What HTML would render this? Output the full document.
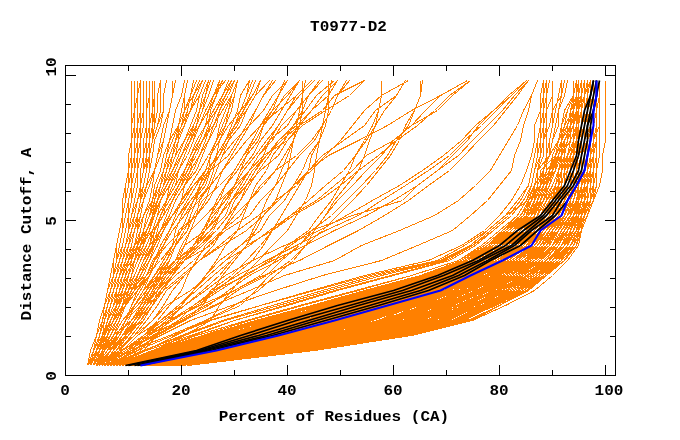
<!DOCTYPE html>
<html><head><meta charset="utf-8"><title>T0977-D2</title>
<style>
html,body{margin:0;padding:0;background:#fff;}
body{width:680px;height:440px;position:relative;overflow:hidden;font-family:"Liberation Mono","DejaVu Sans Mono",monospace;font-weight:bold;font-size:16px;color:#000;}
svg{position:absolute;left:0;top:0;}
.t{position:absolute;white-space:pre;line-height:16px;height:16px;transform:scaleY(0.87);transform-origin:50% 50%;}
.xt{top:384px;width:60px;text-align:center;}
.yt{transform:rotate(-90deg) scaleY(0.87);transform-origin:50% 50%;width:60px;text-align:center;}
</style></head><body>
<svg width="680" height="440" viewBox="0 0 680 440" shape-rendering="crispEdges">
<g fill="none" stroke="#ff8000" stroke-width="1" stroke-linejoin="miter">
<polyline points="181.5,365.5 311.5,350.5 405.5,335.5 464.5,320.5 493.5,305.5 526.5,290.5 546.5,275.5 561.5,260.5 576.5,245.5 581.5,230.5 587.5,215.5 590.5,200.5 593.5,185.5 596.5,170.5 596.5,155.5 596.5,140.5 596.5,125.5 596.5,110.5 596.5,95.5 596.5,80.5"/>
<polyline points="181.5,365.5 308.5,350.5 405.5,335.5 467.5,320.5 499.5,305.5 526.5,290.5 546.5,275.5 561.5,260.5 576.5,245.5 581.5,230.5 584.5,215.5 590.5,200.5 593.5,185.5 596.5,170.5 596.5,155.5 596.5,140.5 596.5,125.5 596.5,110.5 596.5,95.5 596.5,80.5"/>
<polyline points="181.5,365.5 311.5,350.5 405.5,335.5 467.5,320.5 499.5,305.5 526.5,290.5 546.5,275.5 564.5,260.5 576.5,245.5 581.5,230.5 587.5,215.5 590.5,200.5 593.5,185.5 596.5,170.5 596.5,155.5 596.5,140.5 596.5,125.5 596.5,110.5 596.5,95.5 596.5,80.5"/>
<polyline points="181.5,365.5 308.5,350.5 390.5,335.5 458.5,320.5 496.5,305.5 523.5,290.5 540.5,275.5 561.5,260.5 576.5,245.5 581.5,230.5 587.5,215.5 593.5,200.5 596.5,185.5 596.5,170.5 596.5,155.5 596.5,140.5 596.5,125.5 596.5,110.5 596.5,95.5 596.5,80.5"/>
<polyline points="181.5,365.5 305.5,350.5 399.5,335.5 455.5,320.5 493.5,305.5 523.5,290.5 543.5,275.5 564.5,260.5 576.5,245.5 581.5,230.5 587.5,215.5 593.5,200.5 596.5,185.5 596.5,170.5 596.5,155.5 596.5,140.5 596.5,125.5 596.5,110.5 596.5,95.5 596.5,80.5"/>
<polyline points="181.5,365.5 305.5,350.5 405.5,335.5 467.5,320.5 499.5,305.5 526.5,290.5 546.5,275.5 564.5,260.5 576.5,245.5 581.5,230.5 587.5,215.5 590.5,200.5 596.5,185.5 596.5,170.5 596.5,155.5 596.5,140.5 596.5,125.5 596.5,110.5 596.5,95.5 596.5,80.5"/>
<polyline points="178.5,365.5 299.5,350.5 393.5,335.5 452.5,320.5 490.5,305.5 520.5,290.5 543.5,275.5 558.5,260.5 573.5,245.5 581.5,230.5 584.5,215.5 587.5,200.5 590.5,185.5 593.5,170.5 593.5,155.5 596.5,140.5 596.5,125.5 596.5,110.5 599.5,95.5 599.5,80.5"/>
<polyline points="181.5,365.5 311.5,350.5 402.5,335.5 461.5,320.5 493.5,305.5 520.5,290.5 537.5,275.5 558.5,260.5 573.5,245.5 578.5,230.5 584.5,215.5 587.5,200.5 590.5,185.5 593.5,170.5 593.5,155.5 596.5,140.5 596.5,125.5 596.5,110.5 599.5,95.5 599.5,80.5"/>
<polyline points="178.5,365.5 302.5,350.5 393.5,335.5 452.5,320.5 484.5,305.5 514.5,290.5 537.5,275.5 558.5,260.5 570.5,245.5 581.5,230.5 584.5,215.5 587.5,200.5 590.5,185.5 593.5,170.5 593.5,155.5 596.5,140.5 596.5,125.5 596.5,110.5 599.5,95.5 599.5,80.5"/>
<polyline points="178.5,365.5 305.5,350.5 396.5,335.5 455.5,320.5 487.5,305.5 514.5,290.5 537.5,275.5 561.5,260.5 570.5,245.5 581.5,230.5 584.5,215.5 587.5,200.5 590.5,185.5 593.5,170.5 593.5,155.5 593.5,140.5 596.5,125.5 596.5,110.5 596.5,95.5 596.5,80.5"/>
<polyline points="181.5,365.5 308.5,350.5 399.5,335.5 455.5,320.5 493.5,305.5 520.5,290.5 537.5,275.5 558.5,260.5 576.5,245.5 578.5,230.5 584.5,215.5 587.5,200.5 590.5,185.5 593.5,170.5 593.5,155.5 593.5,140.5 596.5,125.5 596.5,110.5 596.5,95.5 596.5,80.5"/>
<polyline points="178.5,365.5 302.5,350.5 393.5,335.5 455.5,320.5 493.5,305.5 517.5,290.5 540.5,275.5 558.5,260.5 573.5,245.5 578.5,230.5 581.5,215.5 590.5,200.5 593.5,185.5 593.5,170.5 593.5,155.5 593.5,140.5 596.5,125.5 596.5,110.5 596.5,95.5 596.5,80.5"/>
<polyline points="178.5,365.5 293.5,350.5 381.5,335.5 446.5,320.5 481.5,305.5 517.5,290.5 537.5,275.5 555.5,260.5 573.5,245.5 578.5,230.5 581.5,215.5 590.5,200.5 593.5,185.5 593.5,170.5 593.5,155.5 593.5,140.5 596.5,125.5 596.5,110.5 596.5,95.5 596.5,80.5"/>
<polyline points="178.5,365.5 305.5,350.5 393.5,335.5 455.5,320.5 484.5,305.5 520.5,290.5 540.5,275.5 555.5,260.5 573.5,245.5 578.5,230.5 578.5,215.5 590.5,200.5 593.5,185.5 593.5,170.5 593.5,155.5 593.5,140.5 596.5,125.5 596.5,110.5 596.5,95.5 596.5,80.5"/>
<polyline points="178.5,365.5 305.5,350.5 402.5,335.5 452.5,320.5 484.5,305.5 514.5,290.5 540.5,275.5 552.5,260.5 564.5,245.5 576.5,230.5 581.5,215.5 584.5,200.5 584.5,185.5 590.5,170.5 593.5,155.5 596.5,140.5 596.5,125.5 596.5,110.5 596.5,95.5 596.5,80.5"/>
<polyline points="181.5,365.5 308.5,350.5 390.5,335.5 452.5,320.5 487.5,305.5 517.5,290.5 537.5,275.5 555.5,260.5 573.5,245.5 578.5,230.5 584.5,215.5 587.5,200.5 587.5,185.5 590.5,170.5 593.5,155.5 596.5,140.5 596.5,125.5 596.5,110.5 596.5,95.5 596.5,80.5"/>
<polyline points="175.5,365.5 296.5,350.5 384.5,335.5 452.5,320.5 493.5,305.5 520.5,290.5 543.5,275.5 558.5,260.5 573.5,245.5 581.5,230.5 584.5,215.5 587.5,200.5 587.5,185.5 590.5,170.5 593.5,155.5 596.5,140.5 596.5,125.5 596.5,110.5 596.5,95.5 596.5,80.5"/>
<polyline points="181.5,365.5 311.5,350.5 402.5,335.5 464.5,320.5 487.5,305.5 514.5,290.5 537.5,275.5 558.5,260.5 573.5,245.5 578.5,230.5 587.5,215.5 593.5,200.5 593.5,185.5 596.5,170.5 596.5,155.5 596.5,140.5 596.5,125.5 596.5,110.5 596.5,95.5 596.5,80.5"/>
<polyline points="178.5,365.5 302.5,350.5 390.5,335.5 455.5,320.5 490.5,305.5 517.5,290.5 537.5,275.5 558.5,260.5 570.5,245.5 576.5,230.5 584.5,215.5 593.5,200.5 593.5,185.5 596.5,170.5 596.5,155.5 596.5,140.5 596.5,125.5 596.5,110.5 596.5,95.5 596.5,80.5"/>
<polyline points="178.5,365.5 299.5,350.5 387.5,335.5 452.5,320.5 481.5,305.5 511.5,290.5 534.5,275.5 555.5,260.5 570.5,245.5 578.5,230.5 584.5,215.5 587.5,200.5 587.5,185.5 593.5,170.5 596.5,155.5 596.5,140.5 596.5,125.5 596.5,110.5 596.5,95.5 596.5,80.5"/>
<polyline points="178.5,365.5 305.5,350.5 399.5,335.5 458.5,320.5 487.5,305.5 526.5,290.5 543.5,275.5 561.5,260.5 576.5,245.5 578.5,230.5 584.5,215.5 584.5,200.5 587.5,185.5 593.5,170.5 596.5,155.5 596.5,140.5 596.5,125.5 596.5,110.5 596.5,95.5 596.5,80.5"/>
<polyline points="175.5,365.5 293.5,350.5 384.5,335.5 443.5,320.5 481.5,305.5 511.5,290.5 537.5,275.5 561.5,260.5 576.5,245.5 581.5,230.5 584.5,215.5 587.5,200.5 587.5,185.5 593.5,170.5 596.5,155.5 596.5,140.5 596.5,125.5 596.5,110.5 596.5,95.5 596.5,80.5"/>
<polyline points="178.5,365.5 302.5,350.5 396.5,335.5 458.5,320.5 493.5,305.5 520.5,290.5 540.5,275.5 558.5,260.5 570.5,245.5 576.5,230.5 581.5,215.5 584.5,200.5 587.5,185.5 590.5,170.5 590.5,155.5 593.5,140.5 593.5,125.5 593.5,110.5 596.5,95.5 596.5,80.5"/>
<polyline points="175.5,365.5 293.5,350.5 390.5,335.5 452.5,320.5 493.5,305.5 526.5,290.5 546.5,275.5 564.5,260.5 573.5,245.5 578.5,230.5 584.5,215.5 587.5,200.5 587.5,185.5 590.5,170.5 590.5,155.5 593.5,140.5 593.5,125.5 593.5,110.5 596.5,95.5 596.5,80.5"/>
<polyline points="178.5,365.5 296.5,350.5 387.5,335.5 443.5,320.5 472.5,305.5 511.5,290.5 534.5,275.5 552.5,260.5 567.5,245.5 576.5,230.5 581.5,215.5 584.5,200.5 587.5,185.5 590.5,170.5 590.5,155.5 593.5,140.5 593.5,125.5 593.5,110.5 596.5,95.5 596.5,80.5"/>
<polyline points="175.5,365.5 299.5,350.5 390.5,335.5 446.5,320.5 481.5,305.5 505.5,290.5 531.5,275.5 552.5,260.5 567.5,245.5 576.5,230.5 581.5,215.5 587.5,200.5 587.5,185.5 590.5,170.5 593.5,155.5 593.5,140.5 599.5,125.5 599.5,110.5 599.5,95.5 599.5,80.5"/>
<polyline points="175.5,365.5 296.5,350.5 387.5,335.5 446.5,320.5 470.5,305.5 502.5,290.5 528.5,275.5 549.5,260.5 564.5,245.5 573.5,230.5 581.5,215.5 590.5,200.5 590.5,185.5 590.5,170.5 593.5,155.5 593.5,140.5 599.5,125.5 599.5,110.5 599.5,95.5 599.5,80.5"/>
<polyline points="175.5,365.5 290.5,350.5 381.5,335.5 437.5,320.5 475.5,305.5 505.5,290.5 531.5,275.5 552.5,260.5 564.5,245.5 573.5,230.5 581.5,215.5 590.5,200.5 590.5,185.5 590.5,170.5 593.5,155.5 593.5,140.5 599.5,125.5 599.5,110.5 599.5,95.5 599.5,80.5"/>
<polyline points="175.5,365.5 302.5,350.5 393.5,335.5 455.5,320.5 481.5,305.5 505.5,290.5 534.5,275.5 555.5,260.5 567.5,245.5 573.5,230.5 578.5,215.5 587.5,200.5 587.5,185.5 590.5,170.5 593.5,155.5 593.5,140.5 593.5,125.5 593.5,110.5 593.5,95.5 593.5,80.5"/>
<polyline points="175.5,365.5 299.5,350.5 384.5,335.5 446.5,320.5 481.5,305.5 511.5,290.5 537.5,275.5 552.5,260.5 567.5,245.5 573.5,230.5 578.5,215.5 587.5,200.5 587.5,185.5 590.5,170.5 593.5,155.5 593.5,140.5 593.5,125.5 593.5,110.5 593.5,95.5 593.5,80.5"/>
<polyline points="175.5,365.5 293.5,350.5 387.5,335.5 437.5,320.5 475.5,305.5 505.5,290.5 528.5,275.5 546.5,260.5 564.5,245.5 573.5,230.5 578.5,215.5 584.5,200.5 587.5,185.5 590.5,170.5 593.5,155.5 593.5,140.5 593.5,125.5 593.5,110.5 593.5,95.5 593.5,80.5"/>
<polyline points="175.5,365.5 296.5,350.5 381.5,335.5 452.5,320.5 490.5,305.5 517.5,290.5 546.5,275.5 558.5,260.5 570.5,245.5 581.5,230.5 581.5,215.5 584.5,200.5 587.5,185.5 587.5,170.5 590.5,155.5 596.5,140.5 596.5,125.5 596.5,110.5 596.5,95.5 596.5,80.5"/>
<polyline points="175.5,365.5 287.5,350.5 375.5,335.5 434.5,320.5 472.5,305.5 502.5,290.5 528.5,275.5 552.5,260.5 561.5,245.5 570.5,230.5 578.5,215.5 581.5,200.5 587.5,185.5 587.5,170.5 590.5,155.5 596.5,140.5 596.5,125.5 596.5,110.5 596.5,95.5 596.5,80.5"/>
<polyline points="175.5,365.5 284.5,350.5 369.5,335.5 431.5,320.5 470.5,305.5 502.5,290.5 526.5,275.5 549.5,260.5 564.5,245.5 576.5,230.5 578.5,215.5 581.5,200.5 587.5,185.5 587.5,170.5 590.5,155.5 596.5,140.5 596.5,125.5 596.5,110.5 596.5,95.5 596.5,80.5"/>
<polyline points="172.5,365.5 293.5,350.5 381.5,335.5 440.5,320.5 472.5,305.5 502.5,290.5 531.5,275.5 549.5,260.5 564.5,245.5 573.5,230.5 576.5,215.5 581.5,200.5 581.5,185.5 587.5,170.5 587.5,155.5 587.5,140.5 587.5,125.5 590.5,110.5 590.5,95.5 590.5,80.5"/>
<polyline points="175.5,365.5 293.5,350.5 378.5,335.5 437.5,320.5 472.5,305.5 499.5,290.5 528.5,275.5 549.5,260.5 564.5,245.5 570.5,230.5 576.5,215.5 581.5,200.5 581.5,185.5 587.5,170.5 587.5,155.5 587.5,140.5 587.5,125.5 590.5,110.5 590.5,95.5 590.5,80.5"/>
<polyline points="172.5,365.5 284.5,350.5 378.5,335.5 440.5,320.5 475.5,305.5 505.5,290.5 528.5,275.5 552.5,260.5 561.5,245.5 570.5,230.5 576.5,215.5 581.5,200.5 581.5,185.5 587.5,170.5 587.5,155.5 587.5,140.5 587.5,125.5 590.5,110.5 590.5,95.5 590.5,80.5"/>
<polyline points="175.5,365.5 296.5,350.5 378.5,335.5 440.5,320.5 472.5,305.5 505.5,290.5 531.5,275.5 552.5,260.5 567.5,245.5 573.5,230.5 578.5,215.5 584.5,200.5 593.5,185.5 593.5,170.5 593.5,155.5 593.5,140.5 593.5,125.5 593.5,110.5 593.5,95.5 593.5,80.5"/>
<polyline points="175.5,365.5 296.5,350.5 387.5,335.5 440.5,320.5 475.5,305.5 508.5,290.5 534.5,275.5 552.5,260.5 570.5,245.5 576.5,230.5 578.5,215.5 584.5,200.5 593.5,185.5 593.5,170.5 593.5,155.5 593.5,140.5 593.5,125.5 593.5,110.5 593.5,95.5 593.5,80.5"/>
<polyline points="172.5,365.5 290.5,350.5 381.5,335.5 440.5,320.5 478.5,305.5 505.5,290.5 531.5,275.5 552.5,260.5 561.5,245.5 573.5,230.5 578.5,215.5 581.5,200.5 587.5,185.5 587.5,170.5 593.5,155.5 593.5,140.5 593.5,125.5 596.5,110.5 596.5,95.5 596.5,80.5"/>
<polyline points="169.5,365.5 275.5,350.5 364.5,335.5 420.5,320.5 455.5,305.5 490.5,290.5 523.5,275.5 543.5,260.5 558.5,245.5 567.5,230.5 578.5,215.5 581.5,200.5 587.5,185.5 587.5,170.5 593.5,155.5 593.5,140.5 593.5,125.5 596.5,110.5 596.5,95.5 596.5,80.5"/>
<polyline points="172.5,365.5 296.5,350.5 393.5,335.5 443.5,320.5 470.5,305.5 502.5,290.5 528.5,275.5 549.5,260.5 561.5,245.5 570.5,230.5 578.5,215.5 581.5,200.5 587.5,185.5 587.5,170.5 593.5,155.5 593.5,140.5 593.5,125.5 596.5,110.5 596.5,95.5 596.5,80.5"/>
<polyline points="172.5,365.5 290.5,350.5 378.5,335.5 440.5,320.5 472.5,305.5 499.5,290.5 523.5,275.5 546.5,260.5 564.5,245.5 570.5,230.5 576.5,215.5 581.5,200.5 581.5,185.5 587.5,170.5 587.5,155.5 587.5,140.5 590.5,125.5 593.5,110.5 593.5,95.5 593.5,80.5"/>
<polyline points="172.5,365.5 284.5,350.5 381.5,335.5 431.5,320.5 470.5,305.5 499.5,290.5 526.5,275.5 546.5,260.5 561.5,245.5 570.5,230.5 578.5,215.5 584.5,200.5 584.5,185.5 587.5,170.5 587.5,155.5 587.5,140.5 590.5,125.5 593.5,110.5 593.5,95.5 593.5,80.5"/>
<polyline points="172.5,365.5 284.5,350.5 378.5,335.5 440.5,320.5 478.5,305.5 502.5,290.5 528.5,275.5 549.5,260.5 561.5,245.5 573.5,230.5 578.5,215.5 584.5,200.5 584.5,185.5 587.5,170.5 587.5,155.5 587.5,140.5 590.5,125.5 593.5,110.5 593.5,95.5 593.5,80.5"/>
<polyline points="172.5,365.5 287.5,350.5 369.5,335.5 434.5,320.5 467.5,305.5 496.5,290.5 528.5,275.5 546.5,260.5 561.5,245.5 570.5,230.5 578.5,215.5 578.5,200.5 581.5,185.5 581.5,170.5 584.5,155.5 587.5,140.5 590.5,125.5 590.5,110.5 590.5,95.5 590.5,80.5"/>
<polyline points="172.5,365.5 296.5,350.5 381.5,335.5 449.5,320.5 478.5,305.5 505.5,290.5 531.5,275.5 552.5,260.5 567.5,245.5 570.5,230.5 578.5,215.5 578.5,200.5 581.5,185.5 581.5,170.5 584.5,155.5 587.5,140.5 590.5,125.5 590.5,110.5 590.5,95.5 590.5,80.5"/>
<polyline points="169.5,365.5 281.5,350.5 364.5,335.5 428.5,320.5 464.5,305.5 496.5,290.5 523.5,275.5 543.5,260.5 558.5,245.5 567.5,230.5 573.5,215.5 576.5,200.5 581.5,185.5 581.5,170.5 584.5,155.5 587.5,140.5 590.5,125.5 590.5,110.5 590.5,95.5 590.5,80.5"/>
<polyline points="169.5,365.5 284.5,350.5 375.5,335.5 431.5,320.5 467.5,305.5 496.5,290.5 517.5,275.5 537.5,260.5 552.5,245.5 567.5,230.5 573.5,215.5 578.5,200.5 581.5,185.5 590.5,170.5 590.5,155.5 590.5,140.5 590.5,125.5 590.5,110.5 590.5,95.5 590.5,80.5"/>
<polyline points="172.5,365.5 293.5,350.5 381.5,335.5 440.5,320.5 475.5,305.5 508.5,290.5 534.5,275.5 552.5,260.5 564.5,245.5 573.5,230.5 576.5,215.5 578.5,200.5 581.5,185.5 590.5,170.5 590.5,155.5 590.5,140.5 590.5,125.5 590.5,110.5 590.5,95.5 590.5,80.5"/>
<polyline points="169.5,365.5 284.5,350.5 372.5,335.5 431.5,320.5 464.5,305.5 499.5,290.5 528.5,275.5 549.5,260.5 564.5,245.5 567.5,230.5 576.5,215.5 581.5,200.5 584.5,185.5 584.5,170.5 584.5,155.5 587.5,140.5 590.5,125.5 593.5,110.5 593.5,95.5 593.5,80.5"/>
<polyline points="172.5,365.5 281.5,350.5 361.5,335.5 420.5,320.5 452.5,305.5 487.5,290.5 520.5,275.5 546.5,260.5 561.5,245.5 567.5,230.5 576.5,215.5 578.5,200.5 584.5,185.5 584.5,170.5 584.5,155.5 587.5,140.5 590.5,125.5 593.5,110.5 593.5,95.5 593.5,80.5"/>
<polyline points="169.5,365.5 278.5,350.5 369.5,335.5 428.5,320.5 464.5,305.5 493.5,290.5 514.5,275.5 540.5,260.5 555.5,245.5 567.5,230.5 573.5,215.5 578.5,200.5 584.5,185.5 584.5,170.5 584.5,155.5 587.5,140.5 590.5,125.5 593.5,110.5 593.5,95.5 593.5,80.5"/>
<polyline points="169.5,365.5 278.5,350.5 372.5,335.5 434.5,320.5 472.5,305.5 502.5,290.5 523.5,275.5 546.5,260.5 555.5,245.5 567.5,230.5 573.5,215.5 581.5,200.5 584.5,185.5 587.5,170.5 587.5,155.5 590.5,140.5 590.5,125.5 590.5,110.5 590.5,95.5 590.5,80.5"/>
<polyline points="169.5,365.5 281.5,350.5 361.5,335.5 411.5,320.5 449.5,305.5 481.5,290.5 514.5,275.5 537.5,260.5 552.5,245.5 564.5,230.5 573.5,215.5 581.5,200.5 584.5,185.5 587.5,170.5 587.5,155.5 590.5,140.5 590.5,125.5 590.5,110.5 590.5,95.5 590.5,80.5"/>
<polyline points="166.5,365.5 275.5,350.5 364.5,335.5 428.5,320.5 464.5,305.5 496.5,290.5 517.5,275.5 543.5,260.5 558.5,245.5 567.5,230.5 573.5,215.5 584.5,200.5 584.5,185.5 587.5,170.5 587.5,155.5 590.5,140.5 590.5,125.5 590.5,110.5 590.5,95.5 590.5,80.5"/>
<polyline points="169.5,365.5 281.5,350.5 366.5,335.5 431.5,320.5 464.5,305.5 496.5,290.5 523.5,275.5 546.5,260.5 561.5,245.5 567.5,230.5 573.5,215.5 576.5,200.5 578.5,185.5 581.5,170.5 584.5,155.5 587.5,140.5 590.5,125.5 590.5,110.5 590.5,95.5 593.5,80.5"/>
<polyline points="166.5,365.5 272.5,350.5 352.5,335.5 417.5,320.5 452.5,305.5 484.5,290.5 514.5,275.5 537.5,260.5 555.5,245.5 567.5,230.5 573.5,215.5 576.5,200.5 578.5,185.5 581.5,170.5 584.5,155.5 587.5,140.5 590.5,125.5 590.5,110.5 590.5,95.5 593.5,80.5"/>
<polyline points="169.5,365.5 275.5,350.5 358.5,335.5 422.5,320.5 455.5,305.5 496.5,290.5 523.5,275.5 546.5,260.5 561.5,245.5 570.5,230.5 573.5,215.5 576.5,200.5 578.5,185.5 581.5,170.5 584.5,155.5 587.5,140.5 590.5,125.5 590.5,110.5 590.5,95.5 593.5,80.5"/>
<polyline points="166.5,365.5 284.5,350.5 366.5,335.5 428.5,320.5 467.5,305.5 505.5,290.5 531.5,275.5 549.5,260.5 558.5,245.5 564.5,230.5 576.5,215.5 576.5,200.5 581.5,185.5 584.5,170.5 587.5,155.5 590.5,140.5 590.5,125.5 590.5,110.5 590.5,95.5 593.5,80.5"/>
<polyline points="166.5,365.5 275.5,350.5 364.5,335.5 411.5,320.5 449.5,305.5 481.5,290.5 514.5,275.5 537.5,260.5 552.5,245.5 561.5,230.5 573.5,215.5 576.5,200.5 581.5,185.5 584.5,170.5 587.5,155.5 590.5,140.5 590.5,125.5 590.5,110.5 590.5,95.5 593.5,80.5"/>
<polyline points="169.5,365.5 278.5,350.5 358.5,335.5 417.5,320.5 461.5,305.5 493.5,290.5 520.5,275.5 546.5,260.5 564.5,245.5 567.5,230.5 573.5,215.5 578.5,200.5 581.5,185.5 581.5,170.5 581.5,155.5 584.5,140.5 587.5,125.5 587.5,110.5 593.5,95.5 593.5,80.5"/>
<polyline points="172.5,365.5 284.5,350.5 369.5,335.5 425.5,320.5 464.5,305.5 493.5,290.5 520.5,275.5 540.5,260.5 558.5,245.5 564.5,230.5 573.5,215.5 578.5,200.5 581.5,185.5 581.5,170.5 581.5,155.5 584.5,140.5 587.5,125.5 587.5,110.5 593.5,95.5 593.5,80.5"/>
<polyline points="166.5,365.5 275.5,350.5 355.5,335.5 405.5,320.5 446.5,305.5 481.5,290.5 514.5,275.5 537.5,260.5 555.5,245.5 564.5,230.5 570.5,215.5 578.5,200.5 581.5,185.5 581.5,170.5 581.5,155.5 584.5,140.5 587.5,125.5 587.5,110.5 593.5,95.5 593.5,80.5"/>
<polyline points="166.5,365.5 275.5,350.5 355.5,335.5 411.5,320.5 443.5,305.5 481.5,290.5 514.5,275.5 537.5,260.5 555.5,245.5 564.5,230.5 570.5,215.5 578.5,200.5 578.5,185.5 578.5,170.5 581.5,155.5 584.5,140.5 587.5,125.5 590.5,110.5 590.5,95.5 590.5,80.5"/>
<polyline points="169.5,365.5 284.5,350.5 369.5,335.5 422.5,320.5 455.5,305.5 490.5,290.5 520.5,275.5 540.5,260.5 555.5,245.5 564.5,230.5 570.5,215.5 578.5,200.5 578.5,185.5 578.5,170.5 581.5,155.5 584.5,140.5 587.5,125.5 590.5,110.5 590.5,95.5 590.5,80.5"/>
<polyline points="166.5,365.5 278.5,350.5 364.5,335.5 428.5,320.5 458.5,305.5 490.5,290.5 517.5,275.5 537.5,260.5 555.5,245.5 564.5,230.5 570.5,215.5 578.5,200.5 578.5,185.5 578.5,170.5 581.5,155.5 584.5,140.5 587.5,125.5 590.5,110.5 590.5,95.5 590.5,80.5"/>
<polyline points="166.5,365.5 269.5,350.5 349.5,335.5 414.5,320.5 452.5,305.5 487.5,290.5 517.5,275.5 537.5,260.5 552.5,245.5 567.5,230.5 573.5,215.5 578.5,200.5 581.5,185.5 581.5,170.5 584.5,155.5 587.5,140.5 590.5,125.5 590.5,110.5 590.5,95.5 590.5,80.5"/>
<polyline points="169.5,365.5 281.5,350.5 369.5,335.5 425.5,320.5 458.5,305.5 490.5,290.5 520.5,275.5 537.5,260.5 552.5,245.5 564.5,230.5 570.5,215.5 578.5,200.5 581.5,185.5 581.5,170.5 584.5,155.5 587.5,140.5 590.5,125.5 590.5,110.5 590.5,95.5 590.5,80.5"/>
<polyline points="166.5,365.5 272.5,350.5 358.5,335.5 420.5,320.5 461.5,305.5 493.5,290.5 520.5,275.5 540.5,260.5 555.5,245.5 564.5,230.5 570.5,215.5 578.5,200.5 581.5,185.5 581.5,170.5 584.5,155.5 587.5,140.5 590.5,125.5 590.5,110.5 590.5,95.5 590.5,80.5"/>
<polyline points="166.5,365.5 272.5,350.5 352.5,335.5 405.5,320.5 443.5,305.5 490.5,290.5 517.5,275.5 540.5,260.5 555.5,245.5 564.5,230.5 570.5,215.5 576.5,200.5 578.5,185.5 581.5,170.5 584.5,155.5 584.5,140.5 590.5,125.5 590.5,110.5 590.5,95.5 590.5,80.5"/>
<polyline points="166.5,365.5 281.5,350.5 361.5,335.5 417.5,320.5 455.5,305.5 490.5,290.5 517.5,275.5 534.5,260.5 549.5,245.5 558.5,230.5 567.5,215.5 576.5,200.5 578.5,185.5 581.5,170.5 584.5,155.5 584.5,140.5 590.5,125.5 590.5,110.5 590.5,95.5 590.5,80.5"/>
<polyline points="163.5,365.5 266.5,350.5 352.5,335.5 414.5,320.5 461.5,305.5 487.5,290.5 514.5,275.5 534.5,260.5 552.5,245.5 558.5,230.5 567.5,215.5 573.5,200.5 578.5,185.5 581.5,170.5 584.5,155.5 584.5,140.5 590.5,125.5 590.5,110.5 590.5,95.5 590.5,80.5"/>
<polyline points="163.5,365.5 263.5,350.5 346.5,335.5 405.5,320.5 452.5,305.5 484.5,290.5 511.5,275.5 534.5,260.5 552.5,245.5 561.5,230.5 570.5,215.5 576.5,200.5 578.5,185.5 584.5,170.5 587.5,155.5 590.5,140.5 590.5,125.5 590.5,110.5 590.5,95.5 590.5,80.5"/>
<polyline points="166.5,365.5 275.5,350.5 358.5,335.5 414.5,320.5 449.5,305.5 487.5,290.5 514.5,275.5 540.5,260.5 558.5,245.5 564.5,230.5 570.5,215.5 576.5,200.5 578.5,185.5 584.5,170.5 587.5,155.5 590.5,140.5 590.5,125.5 590.5,110.5 590.5,95.5 590.5,80.5"/>
<polyline points="163.5,365.5 272.5,350.5 352.5,335.5 408.5,320.5 446.5,305.5 484.5,290.5 514.5,275.5 537.5,260.5 555.5,245.5 564.5,230.5 570.5,215.5 576.5,200.5 578.5,185.5 584.5,170.5 587.5,155.5 590.5,140.5 590.5,125.5 590.5,110.5 590.5,95.5 590.5,80.5"/>
<polyline points="163.5,365.5 266.5,350.5 346.5,335.5 411.5,320.5 443.5,305.5 478.5,290.5 508.5,275.5 531.5,260.5 546.5,245.5 555.5,230.5 564.5,215.5 573.5,200.5 578.5,185.5 578.5,170.5 581.5,155.5 584.5,140.5 587.5,125.5 587.5,110.5 587.5,95.5 587.5,80.5"/>
<polyline points="163.5,365.5 269.5,350.5 352.5,335.5 411.5,320.5 443.5,305.5 475.5,290.5 511.5,275.5 534.5,260.5 549.5,245.5 558.5,230.5 567.5,215.5 573.5,200.5 578.5,185.5 578.5,170.5 581.5,155.5 584.5,140.5 587.5,125.5 587.5,110.5 587.5,95.5 587.5,80.5"/>
<polyline points="166.5,365.5 275.5,350.5 358.5,335.5 417.5,320.5 452.5,305.5 484.5,290.5 514.5,275.5 540.5,260.5 555.5,245.5 564.5,230.5 570.5,215.5 573.5,200.5 576.5,185.5 576.5,170.5 581.5,155.5 584.5,140.5 587.5,125.5 590.5,110.5 590.5,95.5 590.5,80.5"/>
<polyline points="166.5,365.5 269.5,350.5 352.5,335.5 414.5,320.5 446.5,305.5 475.5,290.5 508.5,275.5 531.5,260.5 543.5,245.5 558.5,230.5 570.5,215.5 573.5,200.5 576.5,185.5 576.5,170.5 581.5,155.5 584.5,140.5 587.5,125.5 590.5,110.5 590.5,95.5 590.5,80.5"/>
<polyline points="163.5,365.5 269.5,350.5 352.5,335.5 408.5,320.5 440.5,305.5 478.5,290.5 508.5,275.5 531.5,260.5 549.5,245.5 558.5,230.5 570.5,215.5 570.5,200.5 576.5,185.5 576.5,170.5 581.5,155.5 584.5,140.5 587.5,125.5 590.5,110.5 590.5,95.5 590.5,80.5"/>
<polyline points="163.5,365.5 266.5,350.5 346.5,335.5 408.5,320.5 446.5,305.5 478.5,290.5 508.5,275.5 534.5,260.5 546.5,245.5 558.5,230.5 567.5,215.5 576.5,200.5 587.5,185.5 587.5,170.5 587.5,155.5 587.5,140.5 587.5,125.5 587.5,110.5 587.5,95.5 587.5,80.5"/>
<polyline points="163.5,365.5 266.5,350.5 352.5,335.5 408.5,320.5 440.5,305.5 475.5,290.5 514.5,275.5 534.5,260.5 549.5,245.5 558.5,230.5 567.5,215.5 578.5,200.5 587.5,185.5 587.5,170.5 587.5,155.5 587.5,140.5 587.5,125.5 587.5,110.5 587.5,95.5 587.5,80.5"/>
<polyline points="163.5,365.5 266.5,350.5 346.5,335.5 402.5,320.5 437.5,305.5 472.5,290.5 505.5,275.5 531.5,260.5 546.5,245.5 558.5,230.5 567.5,215.5 576.5,200.5 587.5,185.5 587.5,170.5 587.5,155.5 587.5,140.5 587.5,125.5 587.5,110.5 587.5,95.5 587.5,80.5"/>
<polyline points="163.5,365.5 269.5,350.5 343.5,335.5 408.5,320.5 449.5,305.5 481.5,290.5 511.5,275.5 531.5,260.5 549.5,245.5 558.5,230.5 567.5,215.5 570.5,200.5 573.5,185.5 576.5,170.5 576.5,155.5 578.5,140.5 581.5,125.5 587.5,110.5 590.5,95.5 590.5,80.5"/>
<polyline points="160.5,365.5 260.5,350.5 340.5,335.5 399.5,320.5 437.5,305.5 464.5,290.5 502.5,275.5 528.5,260.5 546.5,245.5 552.5,230.5 564.5,215.5 567.5,200.5 573.5,185.5 576.5,170.5 576.5,155.5 578.5,140.5 581.5,125.5 587.5,110.5 590.5,95.5 590.5,80.5"/>
<polyline points="163.5,365.5 266.5,350.5 349.5,335.5 405.5,320.5 449.5,305.5 484.5,290.5 514.5,275.5 540.5,260.5 552.5,245.5 558.5,230.5 570.5,215.5 573.5,200.5 578.5,185.5 578.5,170.5 581.5,155.5 584.5,140.5 584.5,125.5 587.5,110.5 587.5,95.5 587.5,80.5"/>
<polyline points="163.5,365.5 266.5,350.5 346.5,335.5 405.5,320.5 443.5,305.5 481.5,290.5 514.5,275.5 534.5,260.5 555.5,245.5 561.5,230.5 570.5,215.5 573.5,200.5 578.5,185.5 578.5,170.5 581.5,155.5 584.5,140.5 584.5,125.5 587.5,110.5 587.5,95.5 587.5,80.5"/>
<polyline points="160.5,365.5 258.5,350.5 337.5,335.5 393.5,320.5 431.5,305.5 470.5,290.5 508.5,275.5 531.5,260.5 546.5,245.5 555.5,230.5 567.5,215.5 573.5,200.5 578.5,185.5 578.5,170.5 581.5,155.5 584.5,140.5 584.5,125.5 587.5,110.5 587.5,95.5 587.5,80.5"/>
<polyline points="160.5,365.5 263.5,350.5 355.5,335.5 414.5,320.5 452.5,305.5 481.5,290.5 514.5,275.5 537.5,260.5 552.5,245.5 558.5,230.5 570.5,215.5 573.5,200.5 578.5,185.5 578.5,170.5 581.5,155.5 584.5,140.5 584.5,125.5 587.5,110.5 587.5,95.5 587.5,80.5"/>
<polyline points="160.5,365.5 263.5,350.5 343.5,335.5 405.5,320.5 434.5,305.5 467.5,290.5 499.5,275.5 526.5,260.5 543.5,245.5 555.5,230.5 564.5,215.5 567.5,200.5 573.5,185.5 573.5,170.5 578.5,155.5 587.5,140.5 593.5,125.5 593.5,110.5 593.5,95.5 593.5,80.5"/>
<polyline points="160.5,365.5 258.5,350.5 331.5,335.5 387.5,320.5 428.5,305.5 467.5,290.5 505.5,275.5 528.5,260.5 546.5,245.5 558.5,230.5 567.5,215.5 570.5,200.5 573.5,185.5 573.5,170.5 578.5,155.5 587.5,140.5 593.5,125.5 593.5,110.5 593.5,95.5 593.5,80.5"/>
<polyline points="160.5,365.5 260.5,350.5 337.5,335.5 387.5,320.5 428.5,305.5 467.5,290.5 499.5,275.5 528.5,260.5 540.5,245.5 558.5,230.5 567.5,215.5 570.5,200.5 573.5,185.5 573.5,170.5 578.5,155.5 587.5,140.5 593.5,125.5 593.5,110.5 593.5,95.5 593.5,80.5"/>
<polyline points="160.5,365.5 266.5,350.5 340.5,335.5 393.5,320.5 434.5,305.5 472.5,290.5 502.5,275.5 528.5,260.5 546.5,245.5 555.5,230.5 564.5,215.5 570.5,200.5 576.5,185.5 581.5,170.5 581.5,155.5 587.5,140.5 587.5,125.5 590.5,110.5 590.5,95.5 590.5,80.5"/>
<polyline points="160.5,365.5 260.5,350.5 340.5,335.5 396.5,320.5 434.5,305.5 472.5,290.5 505.5,275.5 531.5,260.5 549.5,245.5 558.5,230.5 567.5,215.5 570.5,200.5 576.5,185.5 581.5,170.5 581.5,155.5 587.5,140.5 587.5,125.5 590.5,110.5 590.5,95.5 590.5,80.5"/>
<polyline points="157.5,365.5 258.5,350.5 331.5,335.5 396.5,320.5 440.5,305.5 475.5,290.5 508.5,275.5 531.5,260.5 546.5,245.5 558.5,230.5 564.5,215.5 570.5,200.5 573.5,185.5 576.5,170.5 578.5,155.5 578.5,140.5 581.5,125.5 584.5,110.5 587.5,95.5 587.5,80.5"/>
<polyline points="160.5,365.5 263.5,350.5 343.5,335.5 393.5,320.5 437.5,305.5 470.5,290.5 502.5,275.5 528.5,260.5 543.5,245.5 555.5,230.5 564.5,215.5 567.5,200.5 573.5,185.5 576.5,170.5 578.5,155.5 578.5,140.5 581.5,125.5 584.5,110.5 587.5,95.5 587.5,80.5"/>
<polyline points="160.5,365.5 260.5,350.5 334.5,335.5 405.5,320.5 437.5,305.5 467.5,290.5 502.5,275.5 526.5,260.5 543.5,245.5 555.5,230.5 564.5,215.5 567.5,200.5 573.5,185.5 576.5,170.5 578.5,155.5 578.5,140.5 581.5,125.5 584.5,110.5 587.5,95.5 587.5,80.5"/>
<polyline points="157.5,365.5 255.5,350.5 325.5,335.5 387.5,320.5 422.5,305.5 464.5,290.5 502.5,275.5 528.5,260.5 543.5,245.5 555.5,230.5 564.5,215.5 573.5,200.5 576.5,185.5 576.5,170.5 581.5,155.5 584.5,140.5 584.5,125.5 584.5,110.5 584.5,95.5 584.5,80.5"/>
<polyline points="157.5,365.5 255.5,350.5 337.5,335.5 396.5,320.5 437.5,305.5 478.5,290.5 505.5,275.5 526.5,260.5 546.5,245.5 555.5,230.5 564.5,215.5 570.5,200.5 576.5,185.5 576.5,170.5 581.5,155.5 584.5,140.5 584.5,125.5 584.5,110.5 584.5,95.5 584.5,80.5"/>
<polyline points="160.5,365.5 258.5,350.5 328.5,335.5 390.5,320.5 434.5,305.5 464.5,290.5 496.5,275.5 526.5,260.5 537.5,245.5 549.5,230.5 564.5,215.5 570.5,200.5 576.5,185.5 576.5,170.5 581.5,155.5 584.5,140.5 584.5,125.5 584.5,110.5 584.5,95.5 584.5,80.5"/>
<polyline points="157.5,365.5 258.5,350.5 334.5,335.5 390.5,320.5 431.5,305.5 470.5,290.5 502.5,275.5 531.5,260.5 546.5,245.5 555.5,230.5 561.5,215.5 570.5,200.5 573.5,185.5 573.5,170.5 576.5,155.5 581.5,140.5 584.5,125.5 584.5,110.5 587.5,95.5 587.5,80.5"/>
<polyline points="160.5,365.5 260.5,350.5 334.5,335.5 387.5,320.5 434.5,305.5 470.5,290.5 502.5,275.5 528.5,260.5 546.5,245.5 552.5,230.5 561.5,215.5 570.5,200.5 573.5,185.5 573.5,170.5 576.5,155.5 581.5,140.5 584.5,125.5 584.5,110.5 587.5,95.5 587.5,80.5"/>
<polyline points="154.5,365.5 249.5,350.5 328.5,335.5 384.5,320.5 431.5,305.5 464.5,290.5 496.5,275.5 523.5,260.5 540.5,245.5 552.5,230.5 561.5,215.5 567.5,200.5 573.5,185.5 573.5,170.5 576.5,155.5 581.5,140.5 584.5,125.5 584.5,110.5 587.5,95.5 587.5,80.5"/>
<polyline points="157.5,365.5 255.5,350.5 331.5,335.5 384.5,320.5 417.5,305.5 461.5,290.5 496.5,275.5 520.5,260.5 537.5,245.5 549.5,230.5 564.5,215.5 567.5,200.5 573.5,185.5 576.5,170.5 578.5,155.5 581.5,140.5 584.5,125.5 587.5,110.5 587.5,95.5 587.5,80.5"/>
<polyline points="157.5,365.5 263.5,350.5 340.5,335.5 393.5,320.5 431.5,305.5 458.5,290.5 499.5,275.5 526.5,260.5 543.5,245.5 555.5,230.5 564.5,215.5 570.5,200.5 573.5,185.5 576.5,170.5 578.5,155.5 581.5,140.5 584.5,125.5 587.5,110.5 587.5,95.5 587.5,80.5"/>
<polyline points="157.5,365.5 252.5,350.5 325.5,335.5 378.5,320.5 425.5,305.5 470.5,290.5 502.5,275.5 528.5,260.5 543.5,245.5 549.5,230.5 561.5,215.5 570.5,200.5 573.5,185.5 576.5,170.5 576.5,155.5 581.5,140.5 584.5,125.5 590.5,110.5 593.5,95.5 593.5,80.5"/>
<polyline points="157.5,365.5 249.5,350.5 322.5,335.5 372.5,320.5 414.5,305.5 455.5,290.5 487.5,275.5 517.5,260.5 534.5,245.5 546.5,230.5 561.5,215.5 570.5,200.5 573.5,185.5 576.5,170.5 576.5,155.5 581.5,140.5 584.5,125.5 590.5,110.5 593.5,95.5 593.5,80.5"/>
<polyline points="157.5,365.5 258.5,350.5 334.5,335.5 393.5,320.5 431.5,305.5 464.5,290.5 499.5,275.5 523.5,260.5 540.5,245.5 549.5,230.5 561.5,215.5 570.5,200.5 573.5,185.5 576.5,170.5 576.5,155.5 581.5,140.5 584.5,125.5 590.5,110.5 593.5,95.5 593.5,80.5"/>
<polyline points="157.5,365.5 258.5,350.5 334.5,335.5 399.5,320.5 431.5,305.5 464.5,290.5 499.5,275.5 526.5,260.5 540.5,245.5 549.5,230.5 561.5,215.5 570.5,200.5 573.5,185.5 576.5,170.5 578.5,155.5 581.5,140.5 581.5,125.5 587.5,110.5 587.5,95.5 590.5,80.5"/>
<polyline points="157.5,365.5 246.5,350.5 328.5,335.5 381.5,320.5 428.5,305.5 470.5,290.5 505.5,275.5 528.5,260.5 546.5,245.5 555.5,230.5 564.5,215.5 570.5,200.5 573.5,185.5 576.5,170.5 578.5,155.5 581.5,140.5 581.5,125.5 587.5,110.5 587.5,95.5 590.5,80.5"/>
<polyline points="154.5,365.5 252.5,350.5 325.5,335.5 384.5,320.5 425.5,305.5 461.5,290.5 493.5,275.5 528.5,260.5 543.5,245.5 552.5,230.5 564.5,215.5 570.5,200.5 573.5,185.5 576.5,170.5 578.5,155.5 581.5,140.5 581.5,125.5 587.5,110.5 587.5,95.5 590.5,80.5"/>
<polyline points="157.5,365.5 252.5,350.5 331.5,335.5 384.5,320.5 422.5,305.5 455.5,290.5 493.5,275.5 517.5,260.5 537.5,245.5 549.5,230.5 561.5,215.5 567.5,200.5 570.5,185.5 573.5,170.5 578.5,155.5 578.5,140.5 581.5,125.5 581.5,110.5 584.5,95.5 590.5,80.5"/>
<polyline points="157.5,365.5 252.5,350.5 325.5,335.5 378.5,320.5 411.5,305.5 458.5,290.5 496.5,275.5 526.5,260.5 543.5,245.5 552.5,230.5 564.5,215.5 567.5,200.5 570.5,185.5 573.5,170.5 578.5,155.5 578.5,140.5 581.5,125.5 581.5,110.5 584.5,95.5 590.5,80.5"/>
<polyline points="154.5,365.5 243.5,350.5 316.5,335.5 378.5,320.5 428.5,305.5 464.5,290.5 499.5,275.5 528.5,260.5 543.5,245.5 552.5,230.5 561.5,215.5 567.5,200.5 570.5,185.5 573.5,170.5 578.5,155.5 578.5,140.5 581.5,125.5 581.5,110.5 584.5,95.5 590.5,80.5"/>
<polyline points="154.5,365.5 252.5,350.5 325.5,335.5 390.5,320.5 428.5,305.5 464.5,290.5 499.5,275.5 528.5,260.5 549.5,245.5 552.5,230.5 564.5,215.5 570.5,200.5 573.5,185.5 573.5,170.5 576.5,155.5 576.5,140.5 578.5,125.5 578.5,110.5 581.5,95.5 581.5,80.5"/>
<polyline points="154.5,365.5 249.5,350.5 325.5,335.5 378.5,320.5 414.5,305.5 455.5,290.5 490.5,275.5 514.5,260.5 537.5,245.5 546.5,230.5 558.5,215.5 567.5,200.5 573.5,185.5 573.5,170.5 576.5,155.5 576.5,140.5 578.5,125.5 578.5,110.5 581.5,95.5 581.5,80.5"/>
<polyline points="154.5,365.5 252.5,350.5 322.5,335.5 387.5,320.5 425.5,305.5 464.5,290.5 499.5,275.5 523.5,260.5 543.5,245.5 549.5,230.5 558.5,215.5 567.5,200.5 573.5,185.5 578.5,170.5 581.5,155.5 581.5,140.5 584.5,125.5 584.5,110.5 587.5,95.5 587.5,80.5"/>
<polyline points="154.5,365.5 252.5,350.5 331.5,335.5 393.5,320.5 431.5,305.5 464.5,290.5 496.5,275.5 526.5,260.5 543.5,245.5 552.5,230.5 561.5,215.5 570.5,200.5 573.5,185.5 578.5,170.5 581.5,155.5 581.5,140.5 584.5,125.5 584.5,110.5 587.5,95.5 587.5,80.5"/>
<polyline points="152.5,365.5 231.5,350.5 308.5,335.5 372.5,320.5 411.5,305.5 446.5,290.5 484.5,275.5 511.5,260.5 531.5,245.5 546.5,230.5 555.5,215.5 567.5,200.5 573.5,185.5 578.5,170.5 581.5,155.5 581.5,140.5 584.5,125.5 584.5,110.5 587.5,95.5 587.5,80.5"/>
<polyline points="152.5,365.5 243.5,350.5 319.5,335.5 369.5,320.5 411.5,305.5 452.5,290.5 496.5,275.5 520.5,260.5 537.5,245.5 549.5,230.5 558.5,215.5 567.5,200.5 573.5,185.5 578.5,170.5 581.5,155.5 581.5,140.5 584.5,125.5 584.5,110.5 587.5,95.5 587.5,80.5"/>
<polyline points="152.5,365.5 240.5,350.5 314.5,335.5 369.5,320.5 417.5,305.5 455.5,290.5 493.5,275.5 520.5,260.5 537.5,245.5 549.5,230.5 558.5,215.5 564.5,200.5 564.5,185.5 570.5,170.5 573.5,155.5 576.5,140.5 578.5,125.5 581.5,110.5 581.5,95.5 581.5,80.5"/>
<polyline points="152.5,365.5 243.5,350.5 316.5,335.5 366.5,320.5 408.5,305.5 449.5,290.5 487.5,275.5 517.5,260.5 537.5,245.5 546.5,230.5 555.5,215.5 564.5,200.5 564.5,185.5 570.5,170.5 573.5,155.5 576.5,140.5 578.5,125.5 581.5,110.5 581.5,95.5 581.5,80.5"/>
<polyline points="152.5,365.5 240.5,350.5 314.5,335.5 372.5,320.5 414.5,305.5 455.5,290.5 490.5,275.5 517.5,260.5 534.5,245.5 543.5,230.5 558.5,215.5 564.5,200.5 564.5,185.5 570.5,170.5 573.5,155.5 576.5,140.5 578.5,125.5 581.5,110.5 581.5,95.5 581.5,80.5"/>
<polyline points="154.5,365.5 240.5,350.5 308.5,335.5 361.5,320.5 402.5,305.5 443.5,290.5 487.5,275.5 517.5,260.5 534.5,245.5 546.5,230.5 555.5,215.5 564.5,200.5 573.5,185.5 576.5,170.5 578.5,155.5 578.5,140.5 578.5,125.5 581.5,110.5 581.5,95.5 581.5,80.5"/>
<polyline points="154.5,365.5 240.5,350.5 316.5,335.5 369.5,320.5 411.5,305.5 455.5,290.5 490.5,275.5 520.5,260.5 537.5,245.5 546.5,230.5 555.5,215.5 564.5,200.5 573.5,185.5 576.5,170.5 578.5,155.5 578.5,140.5 578.5,125.5 581.5,110.5 581.5,95.5 581.5,80.5"/>
<polyline points="149.5,365.5 237.5,350.5 311.5,335.5 366.5,320.5 411.5,305.5 449.5,290.5 484.5,275.5 514.5,260.5 534.5,245.5 546.5,230.5 558.5,215.5 564.5,200.5 567.5,185.5 573.5,170.5 573.5,155.5 581.5,140.5 581.5,125.5 584.5,110.5 584.5,95.5 587.5,80.5"/>
<polyline points="152.5,365.5 243.5,350.5 316.5,335.5 366.5,320.5 414.5,305.5 452.5,290.5 487.5,275.5 514.5,260.5 534.5,245.5 546.5,230.5 555.5,215.5 564.5,200.5 567.5,185.5 573.5,170.5 573.5,155.5 581.5,140.5 581.5,125.5 584.5,110.5 584.5,95.5 587.5,80.5"/>
<polyline points="154.5,365.5 243.5,350.5 311.5,335.5 366.5,320.5 408.5,305.5 446.5,290.5 487.5,275.5 517.5,260.5 534.5,245.5 543.5,230.5 555.5,215.5 564.5,200.5 567.5,185.5 573.5,170.5 573.5,155.5 581.5,140.5 581.5,125.5 584.5,110.5 584.5,95.5 587.5,80.5"/>
<polyline points="152.5,365.5 237.5,350.5 311.5,335.5 369.5,320.5 420.5,305.5 458.5,290.5 493.5,275.5 523.5,260.5 537.5,245.5 546.5,230.5 555.5,215.5 561.5,200.5 564.5,185.5 573.5,170.5 576.5,155.5 578.5,140.5 584.5,125.5 584.5,110.5 584.5,95.5 584.5,80.5"/>
<polyline points="152.5,365.5 231.5,350.5 305.5,335.5 352.5,320.5 405.5,305.5 443.5,290.5 484.5,275.5 508.5,260.5 528.5,245.5 543.5,230.5 555.5,215.5 561.5,200.5 564.5,185.5 573.5,170.5 576.5,155.5 578.5,140.5 584.5,125.5 584.5,110.5 584.5,95.5 584.5,80.5"/>
<polyline points="152.5,365.5 243.5,350.5 316.5,335.5 366.5,320.5 417.5,305.5 446.5,290.5 484.5,275.5 514.5,260.5 531.5,245.5 543.5,230.5 555.5,215.5 561.5,200.5 564.5,185.5 573.5,170.5 576.5,155.5 578.5,140.5 584.5,125.5 584.5,110.5 584.5,95.5 584.5,80.5"/>
<polyline points="152.5,365.5 237.5,350.5 311.5,335.5 366.5,320.5 417.5,305.5 455.5,290.5 490.5,275.5 517.5,260.5 534.5,245.5 543.5,230.5 555.5,215.5 558.5,200.5 561.5,185.5 564.5,170.5 570.5,155.5 573.5,140.5 576.5,125.5 578.5,110.5 578.5,95.5 581.5,80.5"/>
<polyline points="149.5,365.5 231.5,350.5 302.5,335.5 361.5,320.5 405.5,305.5 446.5,290.5 487.5,275.5 517.5,260.5 534.5,245.5 546.5,230.5 555.5,215.5 558.5,200.5 561.5,185.5 564.5,170.5 570.5,155.5 573.5,140.5 576.5,125.5 578.5,110.5 578.5,95.5 581.5,80.5"/>
<polyline points="149.5,365.5 240.5,350.5 308.5,335.5 369.5,320.5 405.5,305.5 446.5,290.5 487.5,275.5 514.5,260.5 531.5,245.5 546.5,230.5 555.5,215.5 561.5,200.5 564.5,185.5 570.5,170.5 570.5,155.5 578.5,140.5 578.5,125.5 581.5,110.5 581.5,95.5 584.5,80.5"/>
<polyline points="152.5,365.5 234.5,350.5 308.5,335.5 355.5,320.5 402.5,305.5 446.5,290.5 484.5,275.5 508.5,260.5 528.5,245.5 540.5,230.5 555.5,215.5 561.5,200.5 564.5,185.5 570.5,170.5 570.5,155.5 578.5,140.5 578.5,125.5 581.5,110.5 581.5,95.5 584.5,80.5"/>
<polyline points="152.5,365.5 234.5,350.5 308.5,335.5 369.5,320.5 411.5,305.5 446.5,290.5 478.5,275.5 514.5,260.5 534.5,245.5 543.5,230.5 555.5,215.5 561.5,200.5 564.5,185.5 570.5,170.5 570.5,155.5 578.5,140.5 578.5,125.5 581.5,110.5 581.5,95.5 584.5,80.5"/>
<polyline points="149.5,365.5 237.5,350.5 296.5,335.5 352.5,320.5 402.5,305.5 443.5,290.5 484.5,275.5 511.5,260.5 534.5,245.5 546.5,230.5 558.5,215.5 561.5,200.5 567.5,185.5 573.5,170.5 576.5,155.5 578.5,140.5 578.5,125.5 581.5,110.5 581.5,95.5 581.5,80.5"/>
<polyline points="149.5,365.5 237.5,350.5 305.5,335.5 349.5,320.5 399.5,305.5 437.5,290.5 475.5,275.5 511.5,260.5 531.5,245.5 546.5,230.5 558.5,215.5 561.5,200.5 567.5,185.5 573.5,170.5 576.5,155.5 578.5,140.5 578.5,125.5 581.5,110.5 581.5,95.5 581.5,80.5"/>
<polyline points="149.5,365.5 234.5,350.5 302.5,335.5 352.5,320.5 402.5,305.5 446.5,290.5 484.5,275.5 514.5,260.5 531.5,245.5 543.5,230.5 555.5,215.5 561.5,200.5 567.5,185.5 573.5,170.5 576.5,155.5 578.5,140.5 578.5,125.5 581.5,110.5 581.5,95.5 581.5,80.5"/>
<polyline points="149.5,365.5 234.5,350.5 305.5,335.5 364.5,320.5 408.5,305.5 443.5,290.5 478.5,275.5 508.5,260.5 526.5,245.5 543.5,230.5 552.5,215.5 558.5,200.5 564.5,185.5 573.5,170.5 578.5,155.5 578.5,140.5 584.5,125.5 584.5,110.5 584.5,95.5 584.5,80.5"/>
<polyline points="149.5,365.5 234.5,350.5 311.5,335.5 366.5,320.5 420.5,305.5 455.5,290.5 487.5,275.5 517.5,260.5 531.5,245.5 546.5,230.5 555.5,215.5 558.5,200.5 564.5,185.5 573.5,170.5 578.5,155.5 578.5,140.5 584.5,125.5 584.5,110.5 584.5,95.5 584.5,80.5"/>
<polyline points="149.5,365.5 234.5,350.5 311.5,335.5 372.5,320.5 414.5,305.5 455.5,290.5 490.5,275.5 517.5,260.5 531.5,245.5 546.5,230.5 552.5,215.5 558.5,200.5 564.5,185.5 573.5,170.5 578.5,155.5 578.5,140.5 584.5,125.5 584.5,110.5 584.5,95.5 584.5,80.5"/>
<polyline points="149.5,365.5 225.5,350.5 299.5,335.5 355.5,320.5 405.5,305.5 440.5,290.5 478.5,275.5 505.5,260.5 526.5,245.5 540.5,230.5 552.5,215.5 558.5,200.5 558.5,185.5 561.5,170.5 570.5,155.5 576.5,140.5 581.5,125.5 581.5,110.5 581.5,95.5 581.5,80.5"/>
<polyline points="149.5,365.5 231.5,350.5 296.5,335.5 358.5,320.5 405.5,305.5 443.5,290.5 478.5,275.5 508.5,260.5 526.5,245.5 540.5,230.5 552.5,215.5 558.5,200.5 558.5,185.5 561.5,170.5 570.5,155.5 576.5,140.5 581.5,125.5 581.5,110.5 581.5,95.5 581.5,80.5"/>
<polyline points="149.5,365.5 231.5,350.5 296.5,335.5 352.5,320.5 393.5,305.5 437.5,290.5 478.5,275.5 508.5,260.5 528.5,245.5 540.5,230.5 552.5,215.5 558.5,200.5 570.5,185.5 570.5,170.5 573.5,155.5 573.5,140.5 578.5,125.5 578.5,110.5 581.5,95.5 581.5,80.5"/>
<polyline points="149.5,365.5 231.5,350.5 308.5,335.5 366.5,320.5 408.5,305.5 452.5,290.5 490.5,275.5 514.5,260.5 534.5,245.5 543.5,230.5 552.5,215.5 558.5,200.5 570.5,185.5 570.5,170.5 573.5,155.5 573.5,140.5 578.5,125.5 578.5,110.5 581.5,95.5 581.5,80.5"/>
<polyline points="149.5,365.5 231.5,350.5 296.5,335.5 358.5,320.5 402.5,305.5 434.5,290.5 475.5,275.5 505.5,260.5 526.5,245.5 540.5,230.5 552.5,215.5 558.5,200.5 570.5,185.5 570.5,170.5 573.5,155.5 573.5,140.5 578.5,125.5 578.5,110.5 581.5,95.5 581.5,80.5"/>
<polyline points="149.5,365.5 234.5,350.5 299.5,335.5 358.5,320.5 408.5,305.5 443.5,290.5 484.5,275.5 514.5,260.5 531.5,245.5 540.5,230.5 552.5,215.5 558.5,200.5 570.5,185.5 570.5,170.5 573.5,155.5 573.5,140.5 578.5,125.5 578.5,110.5 581.5,95.5 581.5,80.5"/>
<polyline points="146.5,365.5 225.5,350.5 296.5,335.5 355.5,320.5 402.5,305.5 431.5,290.5 475.5,275.5 505.5,260.5 526.5,245.5 537.5,230.5 549.5,215.5 552.5,200.5 561.5,185.5 564.5,170.5 570.5,155.5 576.5,140.5 578.5,125.5 578.5,110.5 581.5,95.5 584.5,80.5"/>
<polyline points="146.5,365.5 228.5,350.5 293.5,335.5 349.5,320.5 393.5,305.5 437.5,290.5 475.5,275.5 508.5,260.5 526.5,245.5 537.5,230.5 549.5,215.5 549.5,200.5 561.5,185.5 564.5,170.5 570.5,155.5 576.5,140.5 578.5,125.5 578.5,110.5 581.5,95.5 584.5,80.5"/>
<polyline points="149.5,365.5 228.5,350.5 290.5,335.5 340.5,320.5 393.5,305.5 428.5,290.5 470.5,275.5 499.5,260.5 523.5,245.5 537.5,230.5 549.5,215.5 558.5,200.5 564.5,185.5 564.5,170.5 567.5,155.5 570.5,140.5 576.5,125.5 581.5,110.5 584.5,95.5 584.5,80.5"/>
<polyline points="146.5,365.5 231.5,350.5 302.5,335.5 352.5,320.5 402.5,305.5 440.5,290.5 475.5,275.5 508.5,260.5 528.5,245.5 540.5,230.5 549.5,215.5 558.5,200.5 564.5,185.5 564.5,170.5 567.5,155.5 570.5,140.5 576.5,125.5 581.5,110.5 584.5,95.5 584.5,80.5"/>
<polyline points="146.5,365.5 225.5,350.5 293.5,335.5 343.5,320.5 378.5,305.5 422.5,290.5 472.5,275.5 505.5,260.5 528.5,245.5 540.5,230.5 552.5,215.5 558.5,200.5 564.5,185.5 564.5,170.5 567.5,155.5 570.5,140.5 576.5,125.5 581.5,110.5 584.5,95.5 584.5,80.5"/>
<polyline points="149.5,365.5 231.5,350.5 290.5,335.5 346.5,320.5 399.5,305.5 443.5,290.5 481.5,275.5 508.5,260.5 528.5,245.5 537.5,230.5 549.5,215.5 555.5,200.5 564.5,185.5 570.5,170.5 570.5,155.5 573.5,140.5 576.5,125.5 578.5,110.5 584.5,95.5 584.5,80.5"/>
<polyline points="143.5,365.5 222.5,350.5 281.5,335.5 337.5,320.5 381.5,305.5 422.5,290.5 467.5,275.5 496.5,260.5 517.5,245.5 531.5,230.5 546.5,215.5 555.5,200.5 564.5,185.5 570.5,170.5 570.5,155.5 573.5,140.5 576.5,125.5 578.5,110.5 584.5,95.5 584.5,80.5"/>
<polyline points="146.5,365.5 216.5,350.5 281.5,335.5 337.5,320.5 387.5,305.5 431.5,290.5 470.5,275.5 502.5,260.5 523.5,245.5 537.5,230.5 549.5,215.5 555.5,200.5 564.5,185.5 570.5,170.5 570.5,155.5 573.5,140.5 576.5,125.5 578.5,110.5 584.5,95.5 584.5,80.5"/>
<polyline points="146.5,365.5 222.5,350.5 296.5,335.5 349.5,320.5 396.5,305.5 437.5,290.5 481.5,275.5 508.5,260.5 528.5,245.5 540.5,230.5 549.5,215.5 555.5,200.5 558.5,185.5 558.5,170.5 561.5,155.5 564.5,140.5 570.5,125.5 578.5,110.5 578.5,95.5 578.5,80.5"/>
<polyline points="143.5,365.5 222.5,350.5 293.5,335.5 346.5,320.5 384.5,305.5 425.5,290.5 467.5,275.5 502.5,260.5 526.5,245.5 540.5,230.5 552.5,215.5 555.5,200.5 558.5,185.5 558.5,170.5 561.5,155.5 564.5,140.5 570.5,125.5 578.5,110.5 578.5,95.5 578.5,80.5"/>
<polyline points="146.5,365.5 231.5,350.5 299.5,335.5 352.5,320.5 393.5,305.5 434.5,290.5 475.5,275.5 508.5,260.5 526.5,245.5 537.5,230.5 552.5,215.5 561.5,200.5 564.5,185.5 567.5,170.5 570.5,155.5 573.5,140.5 576.5,125.5 576.5,110.5 581.5,95.5 581.5,80.5"/>
<polyline points="143.5,365.5 222.5,350.5 284.5,335.5 337.5,320.5 390.5,305.5 431.5,290.5 475.5,275.5 508.5,260.5 526.5,245.5 537.5,230.5 549.5,215.5 561.5,200.5 564.5,185.5 567.5,170.5 570.5,155.5 573.5,140.5 576.5,125.5 576.5,110.5 581.5,95.5 581.5,80.5"/>
<polyline points="146.5,365.5 228.5,350.5 296.5,335.5 355.5,320.5 405.5,305.5 437.5,290.5 478.5,275.5 508.5,260.5 526.5,245.5 537.5,230.5 552.5,215.5 561.5,200.5 564.5,185.5 567.5,170.5 570.5,155.5 573.5,140.5 576.5,125.5 576.5,110.5 581.5,95.5 581.5,80.5"/>
<polyline points="143.5,365.5 219.5,350.5 293.5,335.5 349.5,320.5 393.5,305.5 434.5,290.5 472.5,275.5 502.5,260.5 520.5,245.5 534.5,230.5 546.5,215.5 558.5,200.5 564.5,185.5 567.5,170.5 570.5,155.5 573.5,140.5 576.5,125.5 576.5,110.5 581.5,95.5 581.5,80.5"/>
<polyline points="143.5,365.5 219.5,350.5 284.5,335.5 343.5,320.5 390.5,305.5 434.5,290.5 472.5,275.5 502.5,260.5 523.5,245.5 537.5,230.5 549.5,215.5 558.5,200.5 558.5,185.5 567.5,170.5 567.5,155.5 573.5,140.5 573.5,125.5 573.5,110.5 578.5,95.5 578.5,80.5"/>
<polyline points="143.5,365.5 213.5,350.5 275.5,335.5 337.5,320.5 381.5,305.5 422.5,290.5 467.5,275.5 505.5,260.5 528.5,245.5 540.5,230.5 552.5,215.5 558.5,200.5 558.5,185.5 567.5,170.5 567.5,155.5 573.5,140.5 573.5,125.5 573.5,110.5 578.5,95.5 578.5,80.5"/>
<polyline points="143.5,365.5 219.5,350.5 287.5,335.5 349.5,320.5 399.5,305.5 437.5,290.5 475.5,275.5 505.5,260.5 526.5,245.5 534.5,230.5 546.5,215.5 555.5,200.5 561.5,185.5 564.5,170.5 573.5,155.5 573.5,140.5 578.5,125.5 581.5,110.5 584.5,95.5 584.5,80.5"/>
<polyline points="143.5,365.5 216.5,350.5 287.5,335.5 334.5,320.5 381.5,305.5 431.5,290.5 475.5,275.5 508.5,260.5 523.5,245.5 534.5,230.5 546.5,215.5 555.5,200.5 561.5,185.5 564.5,170.5 573.5,155.5 573.5,140.5 578.5,125.5 581.5,110.5 584.5,95.5 584.5,80.5"/>
<polyline points="143.5,365.5 216.5,350.5 272.5,335.5 334.5,320.5 384.5,305.5 425.5,290.5 467.5,275.5 499.5,260.5 520.5,245.5 531.5,230.5 546.5,215.5 555.5,200.5 561.5,185.5 564.5,170.5 573.5,155.5 573.5,140.5 578.5,125.5 581.5,110.5 584.5,95.5 584.5,80.5"/>
<polyline points="143.5,365.5 219.5,350.5 281.5,335.5 331.5,320.5 381.5,305.5 428.5,290.5 472.5,275.5 505.5,260.5 523.5,245.5 537.5,230.5 549.5,215.5 555.5,200.5 564.5,185.5 567.5,170.5 573.5,155.5 573.5,140.5 576.5,125.5 576.5,110.5 578.5,95.5 581.5,80.5"/>
<polyline points="143.5,365.5 222.5,350.5 290.5,335.5 343.5,320.5 390.5,305.5 425.5,290.5 470.5,275.5 502.5,260.5 520.5,245.5 537.5,230.5 549.5,215.5 555.5,200.5 564.5,185.5 567.5,170.5 573.5,155.5 573.5,140.5 576.5,125.5 576.5,110.5 578.5,95.5 581.5,80.5"/>
<polyline points="143.5,365.5 213.5,350.5 281.5,335.5 328.5,320.5 390.5,305.5 422.5,290.5 467.5,275.5 499.5,260.5 520.5,245.5 537.5,230.5 549.5,215.5 555.5,200.5 564.5,185.5 567.5,170.5 573.5,155.5 573.5,140.5 576.5,125.5 576.5,110.5 578.5,95.5 581.5,80.5"/>
<polyline points="140.5,365.5 213.5,350.5 281.5,335.5 325.5,320.5 381.5,305.5 422.5,290.5 467.5,275.5 496.5,260.5 520.5,245.5 537.5,230.5 546.5,215.5 555.5,200.5 564.5,185.5 564.5,170.5 564.5,155.5 564.5,140.5 573.5,125.5 576.5,110.5 578.5,95.5 578.5,80.5"/>
<polyline points="140.5,365.5 216.5,350.5 278.5,335.5 331.5,320.5 372.5,305.5 414.5,290.5 464.5,275.5 496.5,260.5 517.5,245.5 531.5,230.5 543.5,215.5 552.5,200.5 564.5,185.5 564.5,170.5 564.5,155.5 564.5,140.5 573.5,125.5 576.5,110.5 578.5,95.5 578.5,80.5"/>
<polyline points="140.5,365.5 216.5,350.5 281.5,335.5 340.5,320.5 381.5,305.5 422.5,290.5 467.5,275.5 499.5,260.5 520.5,245.5 534.5,230.5 546.5,215.5 552.5,200.5 564.5,185.5 564.5,170.5 564.5,155.5 564.5,140.5 573.5,125.5 576.5,110.5 578.5,95.5 578.5,80.5"/>
<polyline points="140.5,365.5 213.5,350.5 275.5,335.5 328.5,320.5 375.5,305.5 422.5,290.5 470.5,275.5 499.5,260.5 520.5,245.5 528.5,230.5 540.5,215.5 549.5,200.5 561.5,185.5 561.5,170.5 564.5,155.5 564.5,140.5 570.5,125.5 576.5,110.5 576.5,95.5 576.5,80.5"/>
<polyline points="140.5,365.5 208.5,350.5 272.5,335.5 328.5,320.5 375.5,305.5 417.5,290.5 455.5,275.5 493.5,260.5 514.5,245.5 531.5,230.5 543.5,215.5 549.5,200.5 561.5,185.5 561.5,170.5 564.5,155.5 564.5,140.5 570.5,125.5 576.5,110.5 576.5,95.5 576.5,80.5"/>
<polyline points="140.5,365.5 216.5,350.5 284.5,335.5 337.5,320.5 387.5,305.5 428.5,290.5 472.5,275.5 505.5,260.5 520.5,245.5 531.5,230.5 543.5,215.5 549.5,200.5 561.5,185.5 561.5,170.5 564.5,155.5 564.5,140.5 570.5,125.5 576.5,110.5 576.5,95.5 576.5,80.5"/>
<polyline points="140.5,365.5 216.5,350.5 281.5,335.5 331.5,320.5 387.5,305.5 428.5,290.5 470.5,275.5 499.5,260.5 517.5,245.5 534.5,230.5 546.5,215.5 552.5,200.5 558.5,185.5 561.5,170.5 564.5,155.5 567.5,140.5 573.5,125.5 576.5,110.5 578.5,95.5 581.5,80.5"/>
<polyline points="137.5,365.5 210.5,350.5 269.5,335.5 322.5,320.5 372.5,305.5 411.5,290.5 461.5,275.5 490.5,260.5 514.5,245.5 531.5,230.5 546.5,215.5 552.5,200.5 558.5,185.5 561.5,170.5 564.5,155.5 567.5,140.5 573.5,125.5 576.5,110.5 578.5,95.5 581.5,80.5"/>
<polyline points="140.5,365.5 213.5,350.5 281.5,335.5 337.5,320.5 384.5,305.5 422.5,290.5 467.5,275.5 502.5,260.5 520.5,245.5 534.5,230.5 546.5,215.5 552.5,200.5 558.5,185.5 558.5,170.5 567.5,155.5 570.5,140.5 570.5,125.5 576.5,110.5 578.5,95.5 581.5,80.5"/>
<polyline points="140.5,365.5 222.5,350.5 290.5,335.5 346.5,320.5 390.5,305.5 431.5,290.5 470.5,275.5 499.5,260.5 520.5,245.5 531.5,230.5 546.5,215.5 552.5,200.5 558.5,185.5 558.5,170.5 567.5,155.5 570.5,140.5 570.5,125.5 576.5,110.5 578.5,95.5 581.5,80.5"/>
<polyline points="140.5,365.5 216.5,350.5 275.5,335.5 325.5,320.5 369.5,305.5 414.5,290.5 461.5,275.5 493.5,260.5 514.5,245.5 528.5,230.5 543.5,215.5 552.5,200.5 558.5,185.5 558.5,170.5 567.5,155.5 570.5,140.5 570.5,125.5 576.5,110.5 578.5,95.5 581.5,80.5"/>
<polyline points="140.5,365.5 210.5,350.5 278.5,335.5 334.5,320.5 378.5,305.5 414.5,290.5 458.5,275.5 496.5,260.5 520.5,245.5 531.5,230.5 543.5,215.5 552.5,200.5 555.5,185.5 561.5,170.5 561.5,155.5 564.5,140.5 570.5,125.5 576.5,110.5 581.5,95.5 584.5,80.5"/>
<polyline points="137.5,365.5 210.5,350.5 272.5,335.5 331.5,320.5 372.5,305.5 420.5,290.5 464.5,275.5 499.5,260.5 520.5,245.5 531.5,230.5 543.5,215.5 552.5,200.5 555.5,185.5 561.5,170.5 561.5,155.5 564.5,140.5 570.5,125.5 576.5,110.5 581.5,95.5 584.5,80.5"/>
<polyline points="137.5,365.5 210.5,350.5 275.5,335.5 325.5,320.5 372.5,305.5 411.5,290.5 461.5,275.5 496.5,260.5 517.5,245.5 528.5,230.5 540.5,215.5 552.5,200.5 555.5,185.5 561.5,170.5 561.5,155.5 564.5,140.5 570.5,125.5 576.5,110.5 581.5,95.5 584.5,80.5"/>
<polyline points="140.5,365.5 210.5,350.5 275.5,335.5 331.5,320.5 372.5,305.5 408.5,290.5 455.5,275.5 490.5,260.5 514.5,245.5 528.5,230.5 540.5,215.5 549.5,200.5 555.5,185.5 561.5,170.5 567.5,155.5 576.5,140.5 576.5,125.5 578.5,110.5 581.5,95.5 581.5,80.5"/>
<polyline points="140.5,365.5 210.5,350.5 272.5,335.5 325.5,320.5 384.5,305.5 425.5,290.5 467.5,275.5 496.5,260.5 517.5,245.5 528.5,230.5 543.5,215.5 549.5,200.5 555.5,185.5 561.5,170.5 567.5,155.5 576.5,140.5 576.5,125.5 578.5,110.5 581.5,95.5 581.5,80.5"/>
<polyline points="137.5,365.5 205.5,350.5 269.5,335.5 328.5,320.5 372.5,305.5 417.5,290.5 461.5,275.5 493.5,260.5 514.5,245.5 526.5,230.5 540.5,215.5 549.5,200.5 555.5,185.5 558.5,170.5 567.5,155.5 573.5,140.5 576.5,125.5 576.5,110.5 578.5,95.5 578.5,80.5"/>
<polyline points="137.5,365.5 208.5,350.5 269.5,335.5 328.5,320.5 378.5,305.5 417.5,290.5 461.5,275.5 496.5,260.5 517.5,245.5 531.5,230.5 540.5,215.5 549.5,200.5 555.5,185.5 558.5,170.5 567.5,155.5 573.5,140.5 576.5,125.5 576.5,110.5 578.5,95.5 578.5,80.5"/>
<polyline points="137.5,365.5 210.5,350.5 272.5,335.5 322.5,320.5 372.5,305.5 411.5,290.5 455.5,275.5 490.5,260.5 517.5,245.5 528.5,230.5 540.5,215.5 549.5,200.5 555.5,185.5 558.5,170.5 567.5,155.5 573.5,140.5 576.5,125.5 576.5,110.5 578.5,95.5 578.5,80.5"/>
<polyline points="134.5,365.5 199.5,350.5 258.5,335.5 316.5,320.5 372.5,305.5 417.5,290.5 464.5,275.5 499.5,260.5 514.5,245.5 526.5,230.5 543.5,215.5 552.5,200.5 558.5,185.5 558.5,170.5 564.5,155.5 567.5,140.5 567.5,125.5 570.5,110.5 573.5,95.5 573.5,80.5"/>
<polyline points="137.5,365.5 208.5,350.5 275.5,335.5 328.5,320.5 375.5,305.5 420.5,290.5 461.5,275.5 499.5,260.5 514.5,245.5 528.5,230.5 543.5,215.5 552.5,200.5 558.5,185.5 558.5,170.5 564.5,155.5 567.5,140.5 567.5,125.5 570.5,110.5 573.5,95.5 573.5,80.5"/>
<polyline points="137.5,365.5 202.5,350.5 258.5,335.5 314.5,320.5 364.5,305.5 411.5,290.5 458.5,275.5 490.5,260.5 511.5,245.5 526.5,230.5 540.5,215.5 552.5,200.5 558.5,185.5 558.5,170.5 564.5,155.5 567.5,140.5 567.5,125.5 570.5,110.5 573.5,95.5 573.5,80.5"/>
<polyline points="134.5,365.5 199.5,350.5 260.5,335.5 316.5,320.5 366.5,305.5 414.5,290.5 458.5,275.5 490.5,260.5 508.5,245.5 526.5,230.5 540.5,215.5 546.5,200.5 555.5,185.5 561.5,170.5 561.5,155.5 567.5,140.5 570.5,125.5 576.5,110.5 578.5,95.5 578.5,80.5"/>
<polyline points="134.5,365.5 202.5,350.5 258.5,335.5 314.5,320.5 358.5,305.5 408.5,290.5 455.5,275.5 493.5,260.5 511.5,245.5 528.5,230.5 543.5,215.5 549.5,200.5 555.5,185.5 561.5,170.5 561.5,155.5 567.5,140.5 570.5,125.5 576.5,110.5 578.5,95.5 578.5,80.5"/>
<polyline points="134.5,365.5 202.5,350.5 263.5,335.5 319.5,320.5 366.5,305.5 408.5,290.5 452.5,275.5 490.5,260.5 514.5,245.5 528.5,230.5 543.5,215.5 549.5,200.5 555.5,185.5 561.5,170.5 561.5,155.5 567.5,140.5 570.5,125.5 576.5,110.5 578.5,95.5 578.5,80.5"/>
<polyline points="137.5,365.5 208.5,350.5 269.5,335.5 325.5,320.5 372.5,305.5 417.5,290.5 458.5,275.5 493.5,260.5 514.5,245.5 528.5,230.5 540.5,215.5 546.5,200.5 558.5,185.5 558.5,170.5 561.5,155.5 570.5,140.5 576.5,125.5 578.5,110.5 581.5,95.5 581.5,80.5"/>
<polyline points="137.5,365.5 205.5,350.5 269.5,335.5 322.5,320.5 369.5,305.5 417.5,290.5 458.5,275.5 490.5,260.5 511.5,245.5 523.5,230.5 537.5,215.5 546.5,200.5 558.5,185.5 558.5,170.5 561.5,155.5 570.5,140.5 576.5,125.5 578.5,110.5 581.5,95.5 581.5,80.5"/>
<polyline points="131.5,365.5 193.5,350.5 258.5,335.5 308.5,320.5 364.5,305.5 408.5,290.5 455.5,275.5 487.5,260.5 511.5,245.5 523.5,230.5 534.5,215.5 540.5,200.5 543.5,185.5 555.5,170.5 561.5,155.5 567.5,140.5 567.5,125.5 570.5,110.5 581.5,95.5 581.5,80.5"/>
<polyline points="137.5,365.5 205.5,350.5 263.5,335.5 311.5,320.5 358.5,305.5 399.5,290.5 449.5,275.5 487.5,260.5 508.5,245.5 523.5,230.5 534.5,215.5 540.5,200.5 543.5,185.5 555.5,170.5 561.5,155.5 567.5,140.5 567.5,125.5 570.5,110.5 581.5,95.5 581.5,80.5"/>
<polyline points="134.5,365.5 210.5,350.5 272.5,335.5 316.5,320.5 366.5,305.5 411.5,290.5 455.5,275.5 484.5,260.5 508.5,245.5 523.5,230.5 534.5,215.5 540.5,200.5 543.5,185.5 555.5,170.5 561.5,155.5 567.5,140.5 567.5,125.5 570.5,110.5 581.5,95.5 581.5,80.5"/>
<polyline points="134.5,365.5 196.5,350.5 258.5,335.5 316.5,320.5 364.5,305.5 411.5,290.5 455.5,275.5 484.5,260.5 508.5,245.5 523.5,230.5 534.5,215.5 540.5,200.5 543.5,185.5 555.5,170.5 561.5,155.5 567.5,140.5 567.5,125.5 570.5,110.5 581.5,95.5 581.5,80.5"/>
<polyline points="134.5,365.5 199.5,350.5 266.5,335.5 322.5,320.5 372.5,305.5 414.5,290.5 458.5,275.5 487.5,260.5 511.5,245.5 526.5,230.5 537.5,215.5 546.5,200.5 546.5,185.5 552.5,170.5 558.5,155.5 564.5,140.5 570.5,125.5 576.5,110.5 578.5,95.5 578.5,80.5"/>
<polyline points="134.5,365.5 196.5,350.5 252.5,335.5 305.5,320.5 355.5,305.5 402.5,290.5 449.5,275.5 484.5,260.5 505.5,245.5 523.5,230.5 537.5,215.5 546.5,200.5 546.5,185.5 552.5,170.5 558.5,155.5 564.5,140.5 570.5,125.5 576.5,110.5 578.5,95.5 578.5,80.5"/>
<polyline points="134.5,365.5 199.5,350.5 255.5,335.5 305.5,320.5 355.5,305.5 405.5,290.5 455.5,275.5 490.5,260.5 511.5,245.5 526.5,230.5 540.5,215.5 546.5,200.5 552.5,185.5 558.5,170.5 561.5,155.5 561.5,140.5 564.5,125.5 573.5,110.5 578.5,95.5 578.5,80.5"/>
<polyline points="137.5,365.5 199.5,350.5 255.5,335.5 314.5,320.5 358.5,305.5 396.5,290.5 452.5,275.5 487.5,260.5 508.5,245.5 523.5,230.5 537.5,215.5 546.5,200.5 552.5,185.5 558.5,170.5 561.5,155.5 561.5,140.5 564.5,125.5 573.5,110.5 578.5,95.5 578.5,80.5"/>
<polyline points="134.5,365.5 199.5,350.5 260.5,335.5 308.5,320.5 361.5,305.5 405.5,290.5 452.5,275.5 490.5,260.5 514.5,245.5 526.5,230.5 537.5,215.5 546.5,200.5 552.5,185.5 558.5,170.5 561.5,155.5 561.5,140.5 564.5,125.5 573.5,110.5 578.5,95.5 578.5,80.5"/>
<polyline points="134.5,365.5 193.5,350.5 249.5,335.5 308.5,320.5 361.5,305.5 399.5,290.5 455.5,275.5 490.5,260.5 508.5,245.5 523.5,230.5 540.5,215.5 549.5,200.5 555.5,185.5 558.5,170.5 561.5,155.5 567.5,140.5 570.5,125.5 576.5,110.5 576.5,95.5 578.5,80.5"/>
<polyline points="131.5,365.5 187.5,350.5 243.5,335.5 302.5,320.5 355.5,305.5 411.5,290.5 458.5,275.5 490.5,260.5 514.5,245.5 526.5,230.5 540.5,215.5 546.5,200.5 555.5,185.5 558.5,170.5 561.5,155.5 567.5,140.5 570.5,125.5 576.5,110.5 576.5,95.5 578.5,80.5"/>
<polyline points="134.5,365.5 196.5,350.5 252.5,335.5 305.5,320.5 349.5,305.5 396.5,290.5 446.5,275.5 481.5,260.5 502.5,245.5 523.5,230.5 540.5,215.5 549.5,200.5 555.5,185.5 558.5,170.5 561.5,155.5 567.5,140.5 570.5,125.5 576.5,110.5 576.5,95.5 578.5,80.5"/>
<polyline points="134.5,365.5 196.5,350.5 260.5,335.5 311.5,320.5 364.5,305.5 408.5,290.5 455.5,275.5 484.5,260.5 508.5,245.5 523.5,230.5 537.5,215.5 543.5,200.5 552.5,185.5 558.5,170.5 561.5,155.5 567.5,140.5 567.5,125.5 573.5,110.5 573.5,95.5 576.5,80.5"/>
<polyline points="131.5,365.5 193.5,350.5 252.5,335.5 302.5,320.5 355.5,305.5 396.5,290.5 449.5,275.5 484.5,260.5 508.5,245.5 520.5,230.5 534.5,215.5 543.5,200.5 552.5,185.5 558.5,170.5 561.5,155.5 567.5,140.5 567.5,125.5 573.5,110.5 573.5,95.5 576.5,80.5"/>
<polyline points="134.5,365.5 202.5,350.5 260.5,335.5 308.5,320.5 352.5,305.5 399.5,290.5 452.5,275.5 487.5,260.5 505.5,245.5 520.5,230.5 534.5,215.5 543.5,200.5 552.5,185.5 558.5,170.5 561.5,155.5 567.5,140.5 567.5,125.5 573.5,110.5 573.5,95.5 576.5,80.5"/>
<polyline points="131.5,365.5 196.5,350.5 260.5,335.5 314.5,320.5 358.5,305.5 405.5,290.5 455.5,275.5 490.5,260.5 508.5,245.5 526.5,230.5 534.5,215.5 540.5,200.5 549.5,185.5 555.5,170.5 561.5,155.5 564.5,140.5 573.5,125.5 578.5,110.5 578.5,95.5 581.5,80.5"/>
<polyline points="131.5,365.5 196.5,350.5 255.5,335.5 308.5,320.5 358.5,305.5 399.5,290.5 449.5,275.5 484.5,260.5 505.5,245.5 520.5,230.5 534.5,215.5 540.5,200.5 549.5,185.5 555.5,170.5 561.5,155.5 564.5,140.5 573.5,125.5 578.5,110.5 578.5,95.5 581.5,80.5"/>
<polyline points="134.5,365.5 196.5,350.5 258.5,335.5 308.5,320.5 355.5,305.5 396.5,290.5 449.5,275.5 481.5,260.5 505.5,245.5 520.5,230.5 534.5,215.5 540.5,200.5 549.5,185.5 555.5,170.5 561.5,155.5 564.5,140.5 573.5,125.5 578.5,110.5 578.5,95.5 581.5,80.5"/>
<polyline points="131.5,365.5 193.5,350.5 246.5,335.5 302.5,320.5 358.5,305.5 411.5,290.5 455.5,275.5 490.5,260.5 514.5,245.5 526.5,230.5 537.5,215.5 543.5,200.5 549.5,185.5 552.5,170.5 555.5,155.5 561.5,140.5 567.5,125.5 570.5,110.5 576.5,95.5 578.5,80.5"/>
<polyline points="128.5,365.5 187.5,350.5 246.5,335.5 302.5,320.5 352.5,305.5 396.5,290.5 449.5,275.5 487.5,260.5 508.5,245.5 523.5,230.5 537.5,215.5 540.5,200.5 549.5,185.5 552.5,170.5 555.5,155.5 561.5,140.5 567.5,125.5 570.5,110.5 576.5,95.5 578.5,80.5"/>
<polyline points="131.5,365.5 193.5,350.5 237.5,335.5 293.5,320.5 349.5,305.5 393.5,290.5 446.5,275.5 484.5,260.5 511.5,245.5 523.5,230.5 537.5,215.5 543.5,200.5 549.5,185.5 552.5,170.5 555.5,155.5 561.5,140.5 567.5,125.5 570.5,110.5 576.5,95.5 578.5,80.5"/>
<polyline points="131.5,365.5 187.5,350.5 255.5,335.5 308.5,320.5 358.5,305.5 399.5,290.5 449.5,275.5 481.5,260.5 505.5,245.5 523.5,230.5 537.5,215.5 543.5,200.5 549.5,185.5 555.5,170.5 558.5,155.5 564.5,140.5 570.5,125.5 573.5,110.5 573.5,95.5 573.5,80.5"/>
<polyline points="131.5,365.5 187.5,350.5 240.5,335.5 293.5,320.5 349.5,305.5 402.5,290.5 446.5,275.5 484.5,260.5 502.5,245.5 523.5,230.5 537.5,215.5 540.5,200.5 549.5,185.5 555.5,170.5 558.5,155.5 564.5,140.5 570.5,125.5 573.5,110.5 573.5,95.5 573.5,80.5"/>
<polyline points="128.5,365.5 196.5,350.5 249.5,335.5 293.5,320.5 349.5,305.5 393.5,290.5 446.5,275.5 481.5,260.5 508.5,245.5 523.5,230.5 537.5,215.5 543.5,200.5 546.5,185.5 549.5,170.5 561.5,155.5 564.5,140.5 573.5,125.5 576.5,110.5 578.5,95.5 578.5,80.5"/>
<polyline points="131.5,365.5 190.5,350.5 243.5,335.5 296.5,320.5 355.5,305.5 399.5,290.5 446.5,275.5 484.5,260.5 505.5,245.5 520.5,230.5 537.5,215.5 543.5,200.5 546.5,185.5 549.5,170.5 561.5,155.5 564.5,140.5 573.5,125.5 576.5,110.5 578.5,95.5 578.5,80.5"/>
<polyline points="128.5,365.5 184.5,350.5 237.5,335.5 287.5,320.5 340.5,305.5 393.5,290.5 443.5,275.5 481.5,260.5 505.5,245.5 520.5,230.5 534.5,215.5 543.5,200.5 546.5,185.5 549.5,170.5 561.5,155.5 564.5,140.5 573.5,125.5 576.5,110.5 578.5,95.5 578.5,80.5"/>
<polyline points="131.5,365.5 193.5,350.5 246.5,335.5 293.5,320.5 346.5,305.5 393.5,290.5 443.5,275.5 481.5,260.5 505.5,245.5 517.5,230.5 531.5,215.5 540.5,200.5 546.5,185.5 549.5,170.5 555.5,155.5 558.5,140.5 561.5,125.5 567.5,110.5 573.5,95.5 573.5,80.5"/>
<polyline points="128.5,365.5 181.5,350.5 231.5,335.5 284.5,320.5 337.5,305.5 387.5,290.5 440.5,275.5 478.5,260.5 502.5,245.5 517.5,230.5 528.5,215.5 537.5,200.5 546.5,185.5 549.5,170.5 555.5,155.5 558.5,140.5 561.5,125.5 567.5,110.5 573.5,95.5 573.5,80.5"/>
<polyline points="131.5,365.5 193.5,350.5 249.5,335.5 305.5,320.5 346.5,305.5 390.5,290.5 449.5,275.5 484.5,260.5 505.5,245.5 520.5,230.5 531.5,215.5 540.5,200.5 546.5,185.5 549.5,170.5 555.5,155.5 558.5,140.5 561.5,125.5 567.5,110.5 573.5,95.5 573.5,80.5"/>
<polyline points="125.5,365.5 175.5,350.5 234.5,335.5 284.5,320.5 340.5,305.5 387.5,290.5 443.5,275.5 481.5,260.5 505.5,245.5 520.5,230.5 531.5,215.5 537.5,200.5 546.5,185.5 552.5,170.5 555.5,155.5 564.5,140.5 570.5,125.5 570.5,110.5 576.5,95.5 578.5,80.5"/>
<polyline points="128.5,365.5 184.5,350.5 240.5,335.5 293.5,320.5 343.5,305.5 387.5,290.5 434.5,275.5 478.5,260.5 499.5,245.5 517.5,230.5 531.5,215.5 540.5,200.5 546.5,185.5 552.5,170.5 555.5,155.5 564.5,140.5 570.5,125.5 570.5,110.5 576.5,95.5 578.5,80.5"/>
<polyline points="125.5,365.5 184.5,350.5 243.5,335.5 299.5,320.5 343.5,305.5 387.5,290.5 437.5,275.5 478.5,260.5 499.5,245.5 517.5,230.5 531.5,215.5 537.5,200.5 543.5,185.5 552.5,170.5 552.5,155.5 558.5,140.5 567.5,125.5 570.5,110.5 576.5,95.5 576.5,80.5"/>
<polyline points="125.5,365.5 181.5,350.5 240.5,335.5 290.5,320.5 340.5,305.5 393.5,290.5 446.5,275.5 481.5,260.5 505.5,245.5 520.5,230.5 531.5,215.5 537.5,200.5 543.5,185.5 552.5,170.5 552.5,155.5 558.5,140.5 567.5,125.5 570.5,110.5 576.5,95.5 576.5,80.5"/>
<polyline points="125.5,365.5 187.5,350.5 240.5,335.5 287.5,320.5 334.5,305.5 384.5,290.5 443.5,275.5 484.5,260.5 499.5,245.5 517.5,230.5 528.5,215.5 537.5,200.5 543.5,185.5 552.5,170.5 552.5,155.5 558.5,140.5 567.5,125.5 570.5,110.5 576.5,95.5 576.5,80.5"/>
<polyline points="125.5,365.5 175.5,350.5 228.5,335.5 290.5,320.5 337.5,305.5 381.5,290.5 437.5,275.5 472.5,260.5 499.5,245.5 517.5,230.5 531.5,215.5 537.5,200.5 543.5,185.5 552.5,170.5 552.5,155.5 558.5,140.5 567.5,125.5 570.5,110.5 576.5,95.5 576.5,80.5"/>
<polyline points="125.5,365.5 184.5,350.5 240.5,335.5 296.5,320.5 349.5,305.5 396.5,290.5 449.5,275.5 481.5,260.5 502.5,245.5 520.5,230.5 534.5,215.5 540.5,200.5 546.5,185.5 552.5,170.5 561.5,155.5 567.5,140.5 570.5,125.5 573.5,110.5 576.5,95.5 576.5,80.5"/>
<polyline points="128.5,365.5 184.5,350.5 240.5,335.5 290.5,320.5 343.5,305.5 384.5,290.5 440.5,275.5 478.5,260.5 502.5,245.5 520.5,230.5 534.5,215.5 537.5,200.5 546.5,185.5 552.5,170.5 561.5,155.5 567.5,140.5 570.5,125.5 573.5,110.5 576.5,95.5 576.5,80.5"/>
<polyline points="125.5,365.5 184.5,350.5 237.5,335.5 284.5,320.5 328.5,305.5 378.5,290.5 431.5,275.5 472.5,260.5 496.5,245.5 514.5,230.5 531.5,215.5 543.5,200.5 546.5,185.5 555.5,170.5 555.5,155.5 561.5,140.5 570.5,125.5 573.5,110.5 573.5,95.5 576.5,80.5"/>
<polyline points="128.5,365.5 184.5,350.5 237.5,335.5 293.5,320.5 343.5,305.5 390.5,290.5 440.5,275.5 481.5,260.5 505.5,245.5 517.5,230.5 534.5,215.5 543.5,200.5 546.5,185.5 555.5,170.5 555.5,155.5 561.5,140.5 570.5,125.5 573.5,110.5 573.5,95.5 576.5,80.5"/>
<polyline points="125.5,365.5 181.5,350.5 237.5,335.5 284.5,320.5 337.5,305.5 387.5,290.5 437.5,275.5 475.5,260.5 499.5,245.5 517.5,230.5 531.5,215.5 540.5,200.5 546.5,185.5 555.5,170.5 555.5,155.5 561.5,140.5 570.5,125.5 573.5,110.5 573.5,95.5 576.5,80.5"/>
<polyline points="125.5,365.5 181.5,350.5 228.5,335.5 281.5,320.5 334.5,305.5 381.5,290.5 437.5,275.5 472.5,260.5 496.5,245.5 514.5,230.5 528.5,215.5 534.5,200.5 540.5,185.5 549.5,170.5 558.5,155.5 561.5,140.5 567.5,125.5 570.5,110.5 576.5,95.5 576.5,80.5"/>
<polyline points="125.5,365.5 181.5,350.5 240.5,335.5 290.5,320.5 337.5,305.5 390.5,290.5 434.5,275.5 472.5,260.5 496.5,245.5 514.5,230.5 526.5,215.5 534.5,200.5 540.5,185.5 549.5,170.5 558.5,155.5 561.5,140.5 567.5,125.5 570.5,110.5 576.5,95.5 576.5,80.5"/>
<polyline points="125.5,365.5 184.5,350.5 246.5,335.5 296.5,320.5 346.5,305.5 396.5,290.5 443.5,275.5 484.5,260.5 502.5,245.5 514.5,230.5 526.5,215.5 534.5,200.5 540.5,185.5 549.5,170.5 558.5,155.5 561.5,140.5 567.5,125.5 570.5,110.5 576.5,95.5 576.5,80.5"/>
<polyline points="125.5,365.5 178.5,350.5 228.5,335.5 278.5,320.5 328.5,305.5 378.5,290.5 434.5,275.5 472.5,260.5 493.5,245.5 511.5,230.5 528.5,215.5 537.5,200.5 540.5,185.5 552.5,170.5 558.5,155.5 561.5,140.5 567.5,125.5 570.5,110.5 573.5,95.5 576.5,80.5"/>
<polyline points="125.5,365.5 178.5,350.5 234.5,335.5 284.5,320.5 334.5,305.5 381.5,290.5 437.5,275.5 475.5,260.5 499.5,245.5 514.5,230.5 528.5,215.5 537.5,200.5 540.5,185.5 552.5,170.5 558.5,155.5 561.5,140.5 567.5,125.5 570.5,110.5 573.5,95.5 576.5,80.5"/>
<polyline points="125.5,365.5 178.5,350.5 237.5,335.5 290.5,320.5 343.5,305.5 390.5,290.5 440.5,275.5 478.5,260.5 499.5,245.5 514.5,230.5 531.5,215.5 537.5,200.5 540.5,185.5 552.5,170.5 558.5,155.5 561.5,140.5 567.5,125.5 570.5,110.5 573.5,95.5 576.5,80.5"/>
<polyline points="122.5,365.5 172.5,350.5 222.5,335.5 272.5,320.5 334.5,305.5 384.5,290.5 437.5,275.5 472.5,260.5 496.5,245.5 514.5,230.5 528.5,215.5 534.5,200.5 543.5,185.5 546.5,170.5 558.5,155.5 561.5,140.5 567.5,125.5 570.5,110.5 576.5,95.5 578.5,80.5"/>
<polyline points="125.5,365.5 181.5,350.5 231.5,335.5 281.5,320.5 334.5,305.5 381.5,290.5 437.5,275.5 478.5,260.5 502.5,245.5 514.5,230.5 531.5,215.5 534.5,200.5 543.5,185.5 546.5,170.5 558.5,155.5 561.5,140.5 567.5,125.5 570.5,110.5 576.5,95.5 578.5,80.5"/>
<polyline points="128.5,365.5 181.5,350.5 234.5,335.5 281.5,320.5 334.5,305.5 387.5,290.5 443.5,275.5 478.5,260.5 502.5,245.5 511.5,230.5 528.5,215.5 534.5,200.5 540.5,185.5 540.5,170.5 555.5,155.5 561.5,140.5 564.5,125.5 573.5,110.5 573.5,95.5 573.5,80.5"/>
<polyline points="125.5,365.5 178.5,350.5 225.5,335.5 278.5,320.5 328.5,305.5 378.5,290.5 440.5,275.5 475.5,260.5 496.5,245.5 511.5,230.5 528.5,215.5 534.5,200.5 540.5,185.5 540.5,170.5 555.5,155.5 561.5,140.5 564.5,125.5 573.5,110.5 573.5,95.5 573.5,80.5"/>
<polyline points="122.5,365.5 175.5,350.5 231.5,335.5 284.5,320.5 331.5,305.5 375.5,290.5 434.5,275.5 475.5,260.5 499.5,245.5 511.5,230.5 528.5,215.5 534.5,200.5 540.5,185.5 540.5,170.5 555.5,155.5 561.5,140.5 564.5,125.5 573.5,110.5 573.5,95.5 573.5,80.5"/>
<polyline points="125.5,365.5 172.5,350.5 219.5,335.5 275.5,320.5 331.5,305.5 381.5,290.5 437.5,275.5 478.5,260.5 499.5,245.5 511.5,230.5 526.5,215.5 534.5,200.5 543.5,185.5 543.5,170.5 549.5,155.5 558.5,140.5 564.5,125.5 567.5,110.5 573.5,95.5 576.5,80.5"/>
<polyline points="125.5,365.5 175.5,350.5 222.5,335.5 278.5,320.5 325.5,305.5 369.5,290.5 428.5,275.5 470.5,260.5 490.5,245.5 508.5,230.5 526.5,215.5 534.5,200.5 543.5,185.5 543.5,170.5 549.5,155.5 558.5,140.5 564.5,125.5 567.5,110.5 573.5,95.5 576.5,80.5"/>
<polyline points="125.5,365.5 178.5,350.5 231.5,335.5 281.5,320.5 331.5,305.5 381.5,290.5 434.5,275.5 472.5,260.5 496.5,245.5 511.5,230.5 526.5,215.5 534.5,200.5 543.5,185.5 543.5,170.5 549.5,155.5 558.5,140.5 564.5,125.5 567.5,110.5 573.5,95.5 576.5,80.5"/>
<polyline points="122.5,365.5 166.5,350.5 225.5,335.5 272.5,320.5 334.5,305.5 384.5,290.5 440.5,275.5 475.5,260.5 499.5,245.5 514.5,230.5 528.5,215.5 540.5,200.5 549.5,185.5 555.5,170.5 558.5,155.5 561.5,140.5 561.5,125.5 567.5,110.5 573.5,95.5 573.5,80.5"/>
<polyline points="119.5,365.5 169.5,350.5 216.5,335.5 263.5,320.5 314.5,305.5 364.5,290.5 425.5,275.5 470.5,260.5 490.5,245.5 508.5,230.5 528.5,215.5 540.5,200.5 549.5,185.5 555.5,170.5 558.5,155.5 561.5,140.5 561.5,125.5 567.5,110.5 573.5,95.5 573.5,80.5"/>
<polyline points="122.5,365.5 175.5,350.5 231.5,335.5 272.5,320.5 325.5,305.5 372.5,290.5 425.5,275.5 470.5,260.5 490.5,245.5 508.5,230.5 526.5,215.5 540.5,200.5 549.5,185.5 555.5,170.5 558.5,155.5 561.5,140.5 561.5,125.5 567.5,110.5 573.5,95.5 573.5,80.5"/>
<polyline points="122.5,365.5 163.5,350.5 216.5,335.5 260.5,320.5 316.5,305.5 366.5,290.5 425.5,275.5 472.5,260.5 496.5,245.5 511.5,230.5 526.5,215.5 534.5,200.5 540.5,185.5 549.5,170.5 552.5,155.5 558.5,140.5 561.5,125.5 564.5,110.5 573.5,95.5 573.5,80.5"/>
<polyline points="122.5,365.5 175.5,350.5 231.5,335.5 284.5,320.5 322.5,305.5 375.5,290.5 431.5,275.5 472.5,260.5 496.5,245.5 511.5,230.5 526.5,215.5 534.5,200.5 540.5,185.5 549.5,170.5 552.5,155.5 558.5,140.5 561.5,125.5 564.5,110.5 573.5,95.5 573.5,80.5"/>
<polyline points="122.5,365.5 172.5,350.5 216.5,335.5 269.5,320.5 328.5,305.5 375.5,290.5 428.5,275.5 470.5,260.5 496.5,245.5 508.5,230.5 526.5,215.5 534.5,200.5 540.5,185.5 549.5,170.5 552.5,155.5 558.5,140.5 561.5,125.5 564.5,110.5 573.5,95.5 573.5,80.5"/>
<polyline points="122.5,365.5 169.5,350.5 225.5,335.5 278.5,320.5 322.5,305.5 369.5,290.5 431.5,275.5 467.5,260.5 493.5,245.5 508.5,230.5 528.5,215.5 534.5,200.5 537.5,185.5 543.5,170.5 549.5,155.5 552.5,140.5 558.5,125.5 558.5,110.5 564.5,95.5 567.5,80.5"/>
<polyline points="122.5,365.5 175.5,350.5 222.5,335.5 272.5,320.5 334.5,305.5 372.5,290.5 425.5,275.5 470.5,260.5 493.5,245.5 508.5,230.5 526.5,215.5 534.5,200.5 537.5,185.5 543.5,170.5 549.5,155.5 552.5,140.5 558.5,125.5 558.5,110.5 564.5,95.5 567.5,80.5"/>
<polyline points="125.5,365.5 175.5,350.5 219.5,335.5 263.5,320.5 322.5,305.5 369.5,290.5 425.5,275.5 467.5,260.5 493.5,245.5 505.5,230.5 520.5,215.5 528.5,200.5 534.5,185.5 543.5,170.5 549.5,155.5 552.5,140.5 555.5,125.5 558.5,110.5 561.5,95.5 564.5,80.5"/>
<polyline points="119.5,365.5 160.5,350.5 205.5,335.5 255.5,320.5 311.5,305.5 364.5,290.5 420.5,275.5 464.5,260.5 493.5,245.5 508.5,230.5 523.5,215.5 531.5,200.5 534.5,185.5 543.5,170.5 549.5,155.5 552.5,140.5 555.5,125.5 558.5,110.5 561.5,95.5 564.5,80.5"/>
<polyline points="119.5,365.5 166.5,350.5 210.5,335.5 263.5,320.5 319.5,305.5 372.5,290.5 428.5,275.5 467.5,260.5 490.5,245.5 505.5,230.5 523.5,215.5 531.5,200.5 534.5,185.5 543.5,170.5 549.5,155.5 552.5,140.5 555.5,125.5 558.5,110.5 561.5,95.5 564.5,80.5"/>
<polyline points="122.5,365.5 166.5,350.5 216.5,335.5 260.5,320.5 319.5,305.5 378.5,290.5 422.5,275.5 464.5,260.5 490.5,245.5 505.5,230.5 526.5,215.5 531.5,200.5 537.5,185.5 537.5,170.5 549.5,155.5 549.5,140.5 552.5,125.5 555.5,110.5 558.5,95.5 561.5,80.5"/>
<polyline points="122.5,365.5 166.5,350.5 210.5,335.5 263.5,320.5 316.5,305.5 372.5,290.5 425.5,275.5 467.5,260.5 493.5,245.5 508.5,230.5 526.5,215.5 531.5,200.5 537.5,185.5 537.5,170.5 549.5,155.5 549.5,140.5 552.5,125.5 555.5,110.5 558.5,95.5 561.5,80.5"/>
<polyline points="119.5,365.5 163.5,350.5 210.5,335.5 260.5,320.5 316.5,305.5 366.5,290.5 420.5,275.5 464.5,260.5 490.5,245.5 505.5,230.5 526.5,215.5 531.5,200.5 537.5,185.5 537.5,170.5 549.5,155.5 549.5,140.5 552.5,125.5 555.5,110.5 558.5,95.5 561.5,80.5"/>
<polyline points="119.5,365.5 166.5,350.5 208.5,335.5 260.5,320.5 319.5,305.5 375.5,290.5 422.5,275.5 467.5,260.5 490.5,245.5 508.5,230.5 526.5,215.5 534.5,200.5 534.5,185.5 537.5,170.5 540.5,155.5 543.5,140.5 549.5,125.5 552.5,110.5 561.5,95.5 561.5,80.5"/>
<polyline points="119.5,365.5 163.5,350.5 213.5,335.5 266.5,320.5 316.5,305.5 369.5,290.5 428.5,275.5 470.5,260.5 493.5,245.5 508.5,230.5 526.5,215.5 534.5,200.5 534.5,185.5 537.5,170.5 540.5,155.5 543.5,140.5 549.5,125.5 552.5,110.5 561.5,95.5 561.5,80.5"/>
<polyline points="116.5,365.5 157.5,350.5 205.5,335.5 258.5,320.5 316.5,305.5 372.5,290.5 425.5,275.5 464.5,260.5 487.5,245.5 508.5,230.5 526.5,215.5 531.5,200.5 534.5,185.5 537.5,170.5 540.5,155.5 543.5,140.5 549.5,125.5 552.5,110.5 561.5,95.5 561.5,80.5"/>
<polyline points="116.5,365.5 157.5,350.5 205.5,335.5 255.5,320.5 311.5,305.5 364.5,290.5 420.5,275.5 461.5,260.5 487.5,245.5 505.5,230.5 526.5,215.5 528.5,200.5 540.5,185.5 543.5,170.5 546.5,155.5 549.5,140.5 552.5,125.5 552.5,110.5 552.5,95.5 552.5,80.5"/>
<polyline points="119.5,365.5 166.5,350.5 216.5,335.5 260.5,320.5 319.5,305.5 369.5,290.5 425.5,275.5 467.5,260.5 487.5,245.5 508.5,230.5 526.5,215.5 531.5,200.5 540.5,185.5 543.5,170.5 546.5,155.5 549.5,140.5 552.5,125.5 552.5,110.5 552.5,95.5 552.5,80.5"/>
<polyline points="119.5,365.5 166.5,350.5 213.5,335.5 266.5,320.5 328.5,305.5 375.5,290.5 431.5,275.5 467.5,260.5 493.5,245.5 508.5,230.5 526.5,215.5 528.5,200.5 540.5,185.5 543.5,170.5 546.5,155.5 549.5,140.5 552.5,125.5 552.5,110.5 552.5,95.5 552.5,80.5"/>
<polyline points="116.5,365.5 163.5,350.5 216.5,335.5 260.5,320.5 311.5,305.5 364.5,290.5 425.5,275.5 470.5,260.5 490.5,245.5 502.5,230.5 520.5,215.5 528.5,200.5 534.5,185.5 537.5,170.5 540.5,155.5 543.5,140.5 546.5,125.5 546.5,110.5 552.5,95.5 552.5,80.5"/>
<polyline points="116.5,365.5 157.5,350.5 205.5,335.5 263.5,320.5 316.5,305.5 366.5,290.5 422.5,275.5 464.5,260.5 487.5,245.5 505.5,230.5 523.5,215.5 528.5,200.5 534.5,185.5 537.5,170.5 540.5,155.5 543.5,140.5 546.5,125.5 546.5,110.5 552.5,95.5 552.5,80.5"/>
<polyline points="116.5,365.5 160.5,350.5 208.5,335.5 260.5,320.5 322.5,305.5 375.5,290.5 431.5,275.5 467.5,260.5 490.5,245.5 508.5,230.5 523.5,215.5 531.5,200.5 534.5,185.5 537.5,170.5 543.5,155.5 543.5,140.5 543.5,125.5 546.5,110.5 546.5,95.5 549.5,80.5"/>
<polyline points="116.5,365.5 160.5,350.5 216.5,335.5 263.5,320.5 319.5,305.5 369.5,290.5 422.5,275.5 464.5,260.5 490.5,245.5 508.5,230.5 523.5,215.5 531.5,200.5 534.5,185.5 537.5,170.5 543.5,155.5 543.5,140.5 543.5,125.5 546.5,110.5 546.5,95.5 549.5,80.5"/>
<polyline points="116.5,365.5 160.5,350.5 213.5,335.5 260.5,320.5 311.5,305.5 364.5,290.5 420.5,275.5 461.5,260.5 484.5,245.5 502.5,230.5 520.5,215.5 531.5,200.5 534.5,185.5 537.5,170.5 543.5,155.5 543.5,140.5 543.5,125.5 546.5,110.5 546.5,95.5 549.5,80.5"/>
<polyline points="116.5,365.5 157.5,350.5 205.5,335.5 258.5,320.5 311.5,305.5 364.5,290.5 420.5,275.5 461.5,260.5 487.5,245.5 502.5,230.5 523.5,215.5 528.5,200.5 534.5,185.5 537.5,170.5 540.5,155.5 543.5,140.5 543.5,125.5 546.5,110.5 546.5,95.5 549.5,80.5"/>
<polyline points="116.5,365.5 163.5,350.5 210.5,335.5 260.5,320.5 314.5,305.5 364.5,290.5 420.5,275.5 464.5,260.5 490.5,245.5 505.5,230.5 520.5,215.5 528.5,200.5 534.5,185.5 537.5,170.5 540.5,155.5 543.5,140.5 543.5,125.5 546.5,110.5 546.5,95.5 549.5,80.5"/>
<polyline points="116.5,365.5 160.5,350.5 208.5,335.5 255.5,320.5 311.5,305.5 364.5,290.5 420.5,275.5 464.5,260.5 490.5,245.5 505.5,230.5 523.5,215.5 528.5,200.5 534.5,185.5 537.5,170.5 540.5,155.5 543.5,140.5 543.5,125.5 546.5,110.5 546.5,95.5 549.5,80.5"/>
<polyline points="181.5,365.5 308.5,350.5 405.5,335.5 472.5,320.5 499.5,305.5 523.5,290.5 546.5,275.5 564.5,260.5 576.5,245.5 581.5,230.5 587.5,215.5 593.5,200.5 596.5,185.5 596.5,170.5 599.5,155.5 599.5,140.5 599.5,125.5 599.5,110.5 599.5,95.5 599.5,80.5"/>
<polyline points="181.5,365.5 311.5,350.5 408.5,335.5 467.5,320.5 499.5,305.5 528.5,290.5 546.5,275.5 564.5,260.5 576.5,245.5 581.5,230.5 587.5,215.5 593.5,200.5 596.5,185.5 596.5,170.5 599.5,155.5 599.5,140.5 599.5,125.5 599.5,110.5 599.5,95.5 599.5,80.5"/>
<polyline points="187.5,365.5 314.5,350.5 408.5,335.5 470.5,320.5 499.5,305.5 526.5,290.5 546.5,275.5 561.5,260.5 576.5,245.5 581.5,230.5 587.5,215.5 593.5,200.5 596.5,185.5 596.5,170.5 599.5,155.5 599.5,140.5 599.5,125.5 599.5,110.5 599.5,95.5 599.5,80.5"/>
<polyline points="187.5,365.5 314.5,350.5 411.5,335.5 472.5,320.5 505.5,305.5 534.5,290.5 552.5,275.5 567.5,260.5 578.5,245.5 581.5,230.5 587.5,215.5 593.5,200.5 596.5,185.5 596.5,170.5 599.5,155.5 599.5,140.5 599.5,125.5 599.5,110.5 599.5,95.5 599.5,80.5"/>
<polyline points="116.5,365.5 154.5,350.5 202.5,335.5 249.5,320.5 302.5,305.5 358.5,290.5 411.5,275.5 458.5,260.5 484.5,245.5 502.5,230.5 517.5,215.5 526.5,200.5 534.5,185.5 537.5,170.5 540.5,155.5 540.5,140.5 543.5,125.5 546.5,110.5 546.5,95.5 549.5,80.5"/>
<polyline points="113.5,365.5 154.5,350.5 196.5,335.5 246.5,320.5 299.5,305.5 355.5,290.5 411.5,275.5 458.5,260.5 481.5,245.5 499.5,230.5 517.5,215.5 526.5,200.5 531.5,185.5 534.5,170.5 540.5,155.5 540.5,140.5 543.5,125.5 543.5,110.5 546.5,95.5 546.5,80.5"/>
<polyline points="113.5,365.5 152.5,350.5 193.5,335.5 234.5,320.5 287.5,305.5 337.5,290.5 393.5,275.5 449.5,260.5 475.5,245.5 493.5,230.5 511.5,215.5 523.5,200.5 531.5,185.5 534.5,170.5 537.5,155.5 540.5,140.5 540.5,125.5 543.5,110.5 546.5,95.5 546.5,80.5"/>
<polyline points="110.5,365.5 146.5,350.5 190.5,335.5 234.5,320.5 284.5,305.5 334.5,290.5 390.5,275.5 446.5,260.5 472.5,245.5 493.5,230.5 511.5,215.5 523.5,200.5 531.5,185.5 534.5,170.5 537.5,155.5 537.5,140.5 540.5,125.5 543.5,110.5 543.5,95.5 546.5,80.5"/>
<polyline points="110.5,365.5 143.5,350.5 184.5,335.5 225.5,320.5 278.5,305.5 328.5,290.5 381.5,275.5 443.5,260.5 472.5,245.5 490.5,230.5 508.5,215.5 520.5,200.5 528.5,185.5 531.5,170.5 534.5,155.5 537.5,140.5 540.5,125.5 543.5,110.5 543.5,95.5 546.5,80.5"/>
<polyline points="107.5,365.5 137.5,350.5 172.5,335.5 208.5,320.5 260.5,305.5 314.5,290.5 369.5,275.5 437.5,260.5 464.5,245.5 487.5,230.5 505.5,215.5 517.5,200.5 528.5,185.5 531.5,170.5 534.5,155.5 537.5,140.5 540.5,125.5 540.5,110.5 543.5,95.5 543.5,80.5"/>
<polyline points="104.5,365.5 137.5,350.5 172.5,335.5 210.5,320.5 260.5,305.5 311.5,290.5 364.5,275.5 428.5,260.5 461.5,245.5 484.5,230.5 499.5,215.5 511.5,200.5 520.5,185.5 526.5,170.5 531.5,155.5 534.5,140.5 534.5,125.5 540.5,110.5 540.5,95.5 543.5,80.5"/>
<polyline points="104.5,365.5 131.5,350.5 160.5,335.5 190.5,320.5 231.5,305.5 275.5,290.5 322.5,275.5 381.5,260.5 417.5,245.5 452.5,230.5 470.5,215.5 487.5,200.5 499.5,185.5 511.5,170.5 514.5,155.5 520.5,140.5 523.5,125.5 528.5,110.5 531.5,95.5 537.5,80.5"/>
<polyline points="102.5,365.5 128.5,350.5 154.5,335.5 184.5,320.5 213.5,305.5 249.5,290.5 284.5,275.5 334.5,260.5 361.5,245.5 399.5,230.5 434.5,215.5 458.5,200.5 475.5,185.5 490.5,170.5 499.5,155.5 508.5,140.5 517.5,125.5 523.5,110.5 531.5,95.5 537.5,80.5"/>
<polyline points="102.5,365.5 122.5,350.5 146.5,335.5 169.5,320.5 199.5,305.5 213.5,290.5 246.5,275.5 269.5,260.5 290.5,245.5 311.5,230.5 352.5,215.5 402.5,200.5 417.5,185.5 437.5,170.5 452.5,155.5 467.5,140.5 478.5,125.5 493.5,110.5 511.5,95.5 526.5,80.5"/>
<polyline points="102.5,365.5 128.5,350.5 152.5,335.5 178.5,320.5 205.5,305.5 234.5,290.5 263.5,275.5 299.5,260.5 328.5,245.5 358.5,230.5 384.5,215.5 408.5,200.5 428.5,185.5 449.5,170.5 464.5,155.5 478.5,140.5 493.5,125.5 505.5,110.5 517.5,95.5 528.5,80.5"/>
<polyline points="102.5,365.5 125.5,350.5 149.5,335.5 172.5,320.5 196.5,305.5 219.5,290.5 243.5,275.5 272.5,260.5 305.5,245.5 334.5,230.5 366.5,215.5 393.5,200.5 417.5,185.5 437.5,170.5 458.5,155.5 472.5,140.5 487.5,125.5 502.5,110.5 514.5,95.5 528.5,80.5"/>
<polyline points="102.5,365.5 122.5,350.5 146.5,335.5 169.5,320.5 193.5,305.5 213.5,290.5 237.5,275.5 266.5,260.5 296.5,245.5 325.5,230.5 358.5,215.5 381.5,200.5 405.5,185.5 428.5,170.5 449.5,155.5 464.5,140.5 481.5,125.5 496.5,110.5 511.5,95.5 526.5,80.5"/>
<polyline points="99.5,365.5 122.5,350.5 143.5,335.5 163.5,320.5 184.5,305.5 205.5,290.5 225.5,275.5 252.5,260.5 284.5,245.5 319.5,230.5 346.5,215.5 372.5,200.5 399.5,185.5 422.5,170.5 443.5,155.5 461.5,140.5 475.5,125.5 493.5,110.5 508.5,95.5 526.5,80.5"/>
<polyline points="90.5,365.5 96.5,350.5 99.5,335.5 102.5,320.5 104.5,305.5 107.5,290.5 113.5,275.5 113.5,260.5 116.5,245.5 119.5,230.5 122.5,215.5 125.5,200.5 128.5,185.5 131.5,170.5 131.5,155.5 131.5,140.5 134.5,125.5 134.5,110.5 134.5,95.5 134.5,80.5"/>
<polyline points="90.5,365.5 93.5,350.5 99.5,335.5 102.5,320.5 104.5,305.5 110.5,290.5 113.5,275.5 116.5,260.5 119.5,245.5 122.5,230.5 122.5,215.5 125.5,200.5 128.5,185.5 128.5,170.5 131.5,155.5 131.5,140.5 131.5,125.5 134.5,110.5 134.5,95.5 134.5,80.5"/>
<polyline points="90.5,365.5 93.5,350.5 99.5,335.5 102.5,320.5 104.5,305.5 107.5,290.5 113.5,275.5 113.5,260.5 116.5,245.5 119.5,230.5 122.5,215.5 122.5,200.5 125.5,185.5 128.5,170.5 128.5,155.5 131.5,140.5 131.5,125.5 131.5,110.5 131.5,95.5 131.5,80.5"/>
<polyline points="90.5,365.5 93.5,350.5 99.5,335.5 102.5,320.5 104.5,305.5 110.5,290.5 113.5,275.5 116.5,260.5 116.5,245.5 119.5,230.5 122.5,215.5 125.5,200.5 125.5,185.5 128.5,170.5 131.5,155.5 131.5,140.5 134.5,125.5 134.5,110.5 134.5,95.5 134.5,80.5"/>
<polyline points="93.5,365.5 99.5,350.5 102.5,335.5 107.5,320.5 110.5,305.5 113.5,290.5 119.5,275.5 122.5,260.5 125.5,245.5 128.5,230.5 128.5,215.5 131.5,200.5 131.5,185.5 134.5,170.5 134.5,155.5 137.5,140.5 137.5,125.5 137.5,110.5 137.5,95.5 137.5,80.5"/>
<polyline points="93.5,365.5 99.5,350.5 102.5,335.5 107.5,320.5 110.5,305.5 113.5,290.5 116.5,275.5 119.5,260.5 122.5,245.5 125.5,230.5 128.5,215.5 128.5,200.5 131.5,185.5 131.5,170.5 134.5,155.5 134.5,140.5 134.5,125.5 134.5,110.5 137.5,95.5 137.5,80.5"/>
<polyline points="87.5,365.5 93.5,350.5 96.5,335.5 102.5,320.5 104.5,305.5 110.5,290.5 113.5,275.5 116.5,260.5 119.5,245.5 122.5,230.5 125.5,215.5 128.5,200.5 131.5,185.5 134.5,170.5 134.5,155.5 137.5,140.5 137.5,125.5 140.5,110.5 140.5,95.5 140.5,80.5"/>
<polyline points="87.5,365.5 90.5,350.5 96.5,335.5 99.5,320.5 104.5,305.5 107.5,290.5 110.5,275.5 113.5,260.5 116.5,245.5 119.5,230.5 122.5,215.5 125.5,200.5 128.5,185.5 131.5,170.5 134.5,155.5 134.5,140.5 137.5,125.5 137.5,110.5 137.5,95.5 140.5,80.5"/>
<polyline points="87.5,365.5 93.5,350.5 99.5,335.5 102.5,320.5 107.5,305.5 110.5,290.5 113.5,275.5 119.5,260.5 122.5,245.5 125.5,230.5 128.5,215.5 131.5,200.5 134.5,185.5 137.5,170.5 137.5,155.5 140.5,140.5 140.5,125.5 143.5,110.5 143.5,95.5 143.5,80.5"/>
<polyline points="87.5,365.5 93.5,350.5 99.5,335.5 104.5,320.5 107.5,305.5 113.5,290.5 119.5,275.5 122.5,260.5 125.5,245.5 128.5,230.5 131.5,215.5 134.5,200.5 137.5,185.5 137.5,170.5 140.5,155.5 140.5,140.5 140.5,125.5 143.5,110.5 143.5,95.5 143.5,80.5"/>
<polyline points="87.5,365.5 93.5,350.5 96.5,335.5 102.5,320.5 104.5,305.5 110.5,290.5 113.5,275.5 119.5,260.5 122.5,245.5 125.5,230.5 128.5,215.5 131.5,200.5 134.5,185.5 137.5,170.5 137.5,155.5 140.5,140.5 143.5,125.5 143.5,110.5 143.5,95.5 143.5,80.5"/>
<polyline points="87.5,365.5 93.5,350.5 99.5,335.5 102.5,320.5 104.5,305.5 110.5,290.5 113.5,275.5 116.5,260.5 122.5,245.5 125.5,230.5 128.5,215.5 131.5,200.5 131.5,185.5 134.5,170.5 137.5,155.5 137.5,140.5 140.5,125.5 140.5,110.5 140.5,95.5 140.5,80.5"/>
<polyline points="90.5,365.5 96.5,350.5 102.5,335.5 104.5,320.5 110.5,305.5 116.5,290.5 119.5,275.5 122.5,260.5 128.5,245.5 131.5,230.5 134.5,215.5 137.5,200.5 140.5,185.5 143.5,170.5 143.5,155.5 146.5,140.5 146.5,125.5 146.5,110.5 149.5,95.5 149.5,80.5"/>
<polyline points="90.5,365.5 96.5,350.5 99.5,335.5 104.5,320.5 110.5,305.5 113.5,290.5 119.5,275.5 122.5,260.5 128.5,245.5 131.5,230.5 134.5,215.5 137.5,200.5 140.5,185.5 140.5,170.5 143.5,155.5 143.5,140.5 146.5,125.5 146.5,110.5 146.5,95.5 146.5,80.5"/>
<polyline points="90.5,365.5 93.5,350.5 99.5,335.5 102.5,320.5 107.5,305.5 110.5,290.5 116.5,275.5 122.5,260.5 125.5,245.5 131.5,230.5 134.5,215.5 137.5,200.5 140.5,185.5 143.5,170.5 143.5,155.5 146.5,140.5 149.5,125.5 149.5,110.5 149.5,95.5 149.5,80.5"/>
<polyline points="87.5,365.5 96.5,350.5 102.5,335.5 107.5,320.5 113.5,305.5 116.5,290.5 122.5,275.5 128.5,260.5 131.5,245.5 134.5,230.5 137.5,215.5 140.5,200.5 143.5,185.5 146.5,170.5 146.5,155.5 149.5,140.5 149.5,125.5 152.5,110.5 152.5,95.5 152.5,80.5"/>
<polyline points="87.5,365.5 93.5,350.5 102.5,335.5 107.5,320.5 113.5,305.5 119.5,290.5 122.5,275.5 128.5,260.5 131.5,245.5 134.5,230.5 137.5,215.5 140.5,200.5 140.5,185.5 143.5,170.5 146.5,155.5 146.5,140.5 149.5,125.5 149.5,110.5 149.5,95.5 149.5,80.5"/>
<polyline points="87.5,365.5 93.5,350.5 99.5,335.5 104.5,320.5 110.5,305.5 116.5,290.5 122.5,275.5 128.5,260.5 131.5,245.5 134.5,230.5 137.5,215.5 140.5,200.5 143.5,185.5 146.5,170.5 149.5,155.5 152.5,140.5 152.5,125.5 152.5,110.5 154.5,95.5 154.5,80.5"/>
<polyline points="93.5,365.5 96.5,350.5 102.5,335.5 107.5,320.5 110.5,305.5 116.5,290.5 119.5,275.5 125.5,260.5 131.5,245.5 134.5,230.5 137.5,215.5 143.5,200.5 146.5,185.5 149.5,170.5 149.5,155.5 152.5,140.5 152.5,125.5 152.5,110.5 154.5,95.5 154.5,80.5"/>
<polyline points="90.5,365.5 96.5,350.5 104.5,335.5 110.5,320.5 116.5,305.5 122.5,290.5 128.5,275.5 131.5,260.5 134.5,245.5 137.5,230.5 140.5,215.5 143.5,200.5 146.5,185.5 149.5,170.5 149.5,155.5 149.5,140.5 152.5,125.5 152.5,110.5 152.5,95.5 152.5,80.5"/>
<polyline points="93.5,365.5 96.5,350.5 102.5,335.5 104.5,320.5 110.5,305.5 113.5,290.5 119.5,275.5 122.5,260.5 125.5,245.5 128.5,230.5 131.5,215.5 137.5,200.5 140.5,185.5 143.5,170.5 146.5,155.5 149.5,140.5 152.5,125.5 154.5,110.5 154.5,95.5 154.5,80.5"/>
<polyline points="90.5,365.5 96.5,350.5 102.5,335.5 104.5,320.5 110.5,305.5 113.5,290.5 119.5,275.5 125.5,260.5 128.5,245.5 131.5,230.5 137.5,215.5 140.5,200.5 143.5,185.5 146.5,170.5 149.5,155.5 152.5,140.5 154.5,125.5 154.5,110.5 154.5,95.5 154.5,80.5"/>
<polyline points="93.5,365.5 99.5,350.5 104.5,335.5 107.5,320.5 113.5,305.5 119.5,290.5 125.5,275.5 128.5,260.5 134.5,245.5 137.5,230.5 137.5,215.5 140.5,200.5 143.5,185.5 146.5,170.5 149.5,155.5 152.5,140.5 154.5,125.5 157.5,110.5 157.5,95.5 160.5,80.5"/>
<polyline points="99.5,365.5 104.5,350.5 107.5,335.5 113.5,320.5 116.5,305.5 116.5,290.5 119.5,275.5 122.5,260.5 125.5,245.5 131.5,230.5 134.5,215.5 137.5,200.5 143.5,185.5 146.5,170.5 149.5,155.5 152.5,140.5 157.5,125.5 160.5,110.5 160.5,95.5 160.5,80.5"/>
<polyline points="87.5,365.5 93.5,350.5 96.5,335.5 102.5,320.5 107.5,305.5 110.5,290.5 116.5,275.5 119.5,260.5 125.5,245.5 128.5,230.5 134.5,215.5 137.5,200.5 140.5,185.5 143.5,170.5 149.5,155.5 152.5,140.5 157.5,125.5 163.5,110.5 163.5,95.5 166.5,80.5"/>
<polyline points="87.5,365.5 90.5,350.5 96.5,335.5 102.5,320.5 107.5,305.5 113.5,290.5 119.5,275.5 122.5,260.5 128.5,245.5 134.5,230.5 137.5,215.5 143.5,200.5 146.5,185.5 149.5,170.5 152.5,155.5 154.5,140.5 160.5,125.5 163.5,110.5 163.5,95.5 166.5,80.5"/>
<polyline points="93.5,365.5 99.5,350.5 104.5,335.5 113.5,320.5 116.5,305.5 125.5,290.5 128.5,275.5 134.5,260.5 137.5,245.5 140.5,230.5 143.5,215.5 149.5,200.5 152.5,185.5 154.5,170.5 160.5,155.5 163.5,140.5 166.5,125.5 169.5,110.5 172.5,95.5 172.5,80.5"/>
<polyline points="96.5,365.5 102.5,350.5 104.5,335.5 107.5,320.5 110.5,305.5 116.5,290.5 122.5,275.5 125.5,260.5 131.5,245.5 134.5,230.5 140.5,215.5 143.5,200.5 149.5,185.5 154.5,170.5 157.5,155.5 160.5,140.5 163.5,125.5 169.5,110.5 172.5,95.5 172.5,80.5"/>
<polyline points="87.5,365.5 93.5,350.5 99.5,335.5 104.5,320.5 110.5,305.5 116.5,290.5 119.5,275.5 128.5,260.5 134.5,245.5 140.5,230.5 143.5,215.5 149.5,200.5 152.5,185.5 154.5,170.5 157.5,155.5 160.5,140.5 163.5,125.5 169.5,110.5 172.5,95.5 175.5,80.5"/>
<polyline points="87.5,365.5 93.5,350.5 99.5,335.5 104.5,320.5 107.5,305.5 113.5,290.5 116.5,275.5 122.5,260.5 128.5,245.5 134.5,230.5 137.5,215.5 140.5,200.5 146.5,185.5 154.5,170.5 157.5,155.5 163.5,140.5 166.5,125.5 169.5,110.5 172.5,95.5 172.5,80.5"/>
<polyline points="96.5,365.5 102.5,350.5 107.5,335.5 116.5,320.5 122.5,305.5 128.5,290.5 131.5,275.5 137.5,260.5 140.5,245.5 143.5,230.5 149.5,215.5 154.5,200.5 160.5,185.5 163.5,170.5 166.5,155.5 169.5,140.5 172.5,125.5 175.5,110.5 181.5,95.5 184.5,80.5"/>
<polyline points="96.5,365.5 99.5,350.5 104.5,335.5 110.5,320.5 119.5,305.5 122.5,290.5 128.5,275.5 134.5,260.5 143.5,245.5 149.5,230.5 154.5,215.5 157.5,200.5 163.5,185.5 169.5,170.5 175.5,155.5 178.5,140.5 178.5,125.5 181.5,110.5 184.5,95.5 187.5,80.5"/>
<polyline points="93.5,365.5 99.5,350.5 104.5,335.5 110.5,320.5 116.5,305.5 125.5,290.5 131.5,275.5 134.5,260.5 140.5,245.5 149.5,230.5 152.5,215.5 157.5,200.5 163.5,185.5 166.5,170.5 172.5,155.5 175.5,140.5 181.5,125.5 184.5,110.5 184.5,95.5 187.5,80.5"/>
<polyline points="90.5,365.5 96.5,350.5 102.5,335.5 110.5,320.5 116.5,305.5 119.5,290.5 128.5,275.5 134.5,260.5 137.5,245.5 146.5,230.5 152.5,215.5 154.5,200.5 160.5,185.5 166.5,170.5 169.5,155.5 175.5,140.5 178.5,125.5 181.5,110.5 184.5,95.5 187.5,80.5"/>
<polyline points="90.5,365.5 99.5,350.5 104.5,335.5 110.5,320.5 119.5,305.5 125.5,290.5 128.5,275.5 134.5,260.5 137.5,245.5 143.5,230.5 146.5,215.5 152.5,200.5 157.5,185.5 163.5,170.5 166.5,155.5 172.5,140.5 178.5,125.5 184.5,110.5 190.5,95.5 196.5,80.5"/>
<polyline points="93.5,365.5 99.5,350.5 102.5,335.5 107.5,320.5 110.5,305.5 116.5,290.5 122.5,275.5 125.5,260.5 134.5,245.5 137.5,230.5 143.5,215.5 152.5,200.5 157.5,185.5 163.5,170.5 169.5,155.5 175.5,140.5 184.5,125.5 187.5,110.5 190.5,95.5 193.5,80.5"/>
<polyline points="96.5,365.5 99.5,350.5 104.5,335.5 107.5,320.5 116.5,305.5 119.5,290.5 125.5,275.5 134.5,260.5 140.5,245.5 146.5,230.5 152.5,215.5 157.5,200.5 160.5,185.5 166.5,170.5 172.5,155.5 178.5,140.5 184.5,125.5 190.5,110.5 193.5,95.5 199.5,80.5"/>
<polyline points="96.5,365.5 102.5,350.5 107.5,335.5 110.5,320.5 116.5,305.5 122.5,290.5 125.5,275.5 134.5,260.5 140.5,245.5 149.5,230.5 154.5,215.5 157.5,200.5 163.5,185.5 169.5,170.5 172.5,155.5 175.5,140.5 181.5,125.5 187.5,110.5 190.5,95.5 196.5,80.5"/>
<polyline points="93.5,365.5 96.5,350.5 99.5,335.5 104.5,320.5 110.5,305.5 116.5,290.5 122.5,275.5 128.5,260.5 134.5,245.5 146.5,230.5 152.5,215.5 154.5,200.5 157.5,185.5 163.5,170.5 166.5,155.5 172.5,140.5 178.5,125.5 184.5,110.5 190.5,95.5 196.5,80.5"/>
<polyline points="93.5,365.5 99.5,350.5 104.5,335.5 107.5,320.5 110.5,305.5 116.5,290.5 122.5,275.5 131.5,260.5 137.5,245.5 143.5,230.5 149.5,215.5 152.5,200.5 157.5,185.5 163.5,170.5 169.5,155.5 175.5,140.5 181.5,125.5 190.5,110.5 196.5,95.5 202.5,80.5"/>
<polyline points="90.5,365.5 99.5,350.5 107.5,335.5 113.5,320.5 119.5,305.5 125.5,290.5 128.5,275.5 134.5,260.5 140.5,245.5 146.5,230.5 152.5,215.5 157.5,200.5 160.5,185.5 166.5,170.5 172.5,155.5 175.5,140.5 184.5,125.5 190.5,110.5 199.5,95.5 205.5,80.5"/>
<polyline points="90.5,365.5 99.5,350.5 104.5,335.5 110.5,320.5 116.5,305.5 119.5,290.5 125.5,275.5 134.5,260.5 140.5,245.5 143.5,230.5 149.5,215.5 152.5,200.5 154.5,185.5 160.5,170.5 163.5,155.5 169.5,140.5 178.5,125.5 184.5,110.5 193.5,95.5 202.5,80.5"/>
<polyline points="93.5,365.5 96.5,350.5 102.5,335.5 107.5,320.5 113.5,305.5 116.5,290.5 122.5,275.5 131.5,260.5 137.5,245.5 143.5,230.5 149.5,215.5 157.5,200.5 163.5,185.5 172.5,170.5 178.5,155.5 184.5,140.5 190.5,125.5 196.5,110.5 199.5,95.5 205.5,80.5"/>
<polyline points="93.5,365.5 102.5,350.5 110.5,335.5 116.5,320.5 122.5,305.5 128.5,290.5 134.5,275.5 140.5,260.5 149.5,245.5 154.5,230.5 163.5,215.5 166.5,200.5 172.5,185.5 178.5,170.5 184.5,155.5 190.5,140.5 193.5,125.5 199.5,110.5 202.5,95.5 208.5,80.5"/>
<polyline points="90.5,365.5 99.5,350.5 104.5,335.5 110.5,320.5 119.5,305.5 125.5,290.5 131.5,275.5 137.5,260.5 146.5,245.5 152.5,230.5 157.5,215.5 166.5,200.5 175.5,185.5 178.5,170.5 184.5,155.5 190.5,140.5 196.5,125.5 202.5,110.5 205.5,95.5 208.5,80.5"/>
<polyline points="96.5,365.5 99.5,350.5 104.5,335.5 107.5,320.5 113.5,305.5 122.5,290.5 128.5,275.5 131.5,260.5 137.5,245.5 146.5,230.5 152.5,215.5 160.5,200.5 166.5,185.5 172.5,170.5 181.5,155.5 187.5,140.5 193.5,125.5 199.5,110.5 205.5,95.5 210.5,80.5"/>
<polyline points="96.5,365.5 104.5,350.5 113.5,335.5 119.5,320.5 125.5,305.5 131.5,290.5 137.5,275.5 143.5,260.5 149.5,245.5 152.5,230.5 157.5,215.5 166.5,200.5 172.5,185.5 178.5,170.5 187.5,155.5 193.5,140.5 196.5,125.5 199.5,110.5 205.5,95.5 210.5,80.5"/>
<polyline points="96.5,365.5 107.5,350.5 113.5,335.5 119.5,320.5 125.5,305.5 131.5,290.5 137.5,275.5 146.5,260.5 152.5,245.5 154.5,230.5 160.5,215.5 166.5,200.5 172.5,185.5 178.5,170.5 184.5,155.5 190.5,140.5 196.5,125.5 202.5,110.5 208.5,95.5 213.5,80.5"/>
<polyline points="93.5,365.5 96.5,350.5 104.5,335.5 113.5,320.5 116.5,305.5 122.5,290.5 125.5,275.5 134.5,260.5 140.5,245.5 146.5,230.5 152.5,215.5 157.5,200.5 166.5,185.5 175.5,170.5 181.5,155.5 187.5,140.5 196.5,125.5 202.5,110.5 208.5,95.5 213.5,80.5"/>
<polyline points="96.5,365.5 102.5,350.5 104.5,335.5 107.5,320.5 113.5,305.5 116.5,290.5 119.5,275.5 128.5,260.5 137.5,245.5 146.5,230.5 152.5,215.5 157.5,200.5 163.5,185.5 169.5,170.5 175.5,155.5 184.5,140.5 193.5,125.5 199.5,110.5 205.5,95.5 210.5,80.5"/>
<polyline points="96.5,365.5 102.5,350.5 107.5,335.5 113.5,320.5 119.5,305.5 125.5,290.5 131.5,275.5 137.5,260.5 140.5,245.5 146.5,230.5 152.5,215.5 157.5,200.5 163.5,185.5 172.5,170.5 181.5,155.5 190.5,140.5 196.5,125.5 202.5,110.5 208.5,95.5 213.5,80.5"/>
<polyline points="87.5,365.5 96.5,350.5 104.5,335.5 113.5,320.5 122.5,305.5 128.5,290.5 137.5,275.5 146.5,260.5 152.5,245.5 157.5,230.5 160.5,215.5 166.5,200.5 169.5,185.5 175.5,170.5 181.5,155.5 190.5,140.5 199.5,125.5 205.5,110.5 213.5,95.5 219.5,80.5"/>
<polyline points="87.5,365.5 93.5,350.5 102.5,335.5 107.5,320.5 116.5,305.5 128.5,290.5 137.5,275.5 146.5,260.5 152.5,245.5 157.5,230.5 160.5,215.5 166.5,200.5 175.5,185.5 184.5,170.5 193.5,155.5 199.5,140.5 205.5,125.5 208.5,110.5 216.5,95.5 219.5,80.5"/>
<polyline points="87.5,365.5 93.5,350.5 99.5,335.5 104.5,320.5 110.5,305.5 116.5,290.5 119.5,275.5 128.5,260.5 140.5,245.5 152.5,230.5 163.5,215.5 172.5,200.5 181.5,185.5 190.5,170.5 193.5,155.5 202.5,140.5 208.5,125.5 210.5,110.5 216.5,95.5 222.5,80.5"/>
<polyline points="93.5,365.5 99.5,350.5 107.5,335.5 116.5,320.5 125.5,305.5 128.5,290.5 134.5,275.5 140.5,260.5 146.5,245.5 152.5,230.5 157.5,215.5 160.5,200.5 166.5,185.5 172.5,170.5 181.5,155.5 190.5,140.5 199.5,125.5 205.5,110.5 213.5,95.5 222.5,80.5"/>
<polyline points="99.5,365.5 104.5,350.5 110.5,335.5 119.5,320.5 122.5,305.5 125.5,290.5 131.5,275.5 137.5,260.5 143.5,245.5 146.5,230.5 152.5,215.5 157.5,200.5 166.5,185.5 175.5,170.5 181.5,155.5 190.5,140.5 199.5,125.5 205.5,110.5 213.5,95.5 225.5,80.5"/>
<polyline points="96.5,365.5 102.5,350.5 107.5,335.5 110.5,320.5 119.5,305.5 125.5,290.5 128.5,275.5 134.5,260.5 140.5,245.5 146.5,230.5 154.5,215.5 160.5,200.5 169.5,185.5 178.5,170.5 187.5,155.5 193.5,140.5 199.5,125.5 208.5,110.5 213.5,95.5 219.5,80.5"/>
<polyline points="87.5,365.5 96.5,350.5 104.5,335.5 113.5,320.5 125.5,305.5 134.5,290.5 149.5,275.5 157.5,260.5 163.5,245.5 169.5,230.5 175.5,215.5 181.5,200.5 184.5,185.5 190.5,170.5 199.5,155.5 205.5,140.5 210.5,125.5 216.5,110.5 222.5,95.5 231.5,80.5"/>
<polyline points="87.5,365.5 96.5,350.5 107.5,335.5 116.5,320.5 125.5,305.5 134.5,290.5 140.5,275.5 149.5,260.5 154.5,245.5 160.5,230.5 166.5,215.5 172.5,200.5 178.5,185.5 184.5,170.5 190.5,155.5 196.5,140.5 205.5,125.5 216.5,110.5 222.5,95.5 228.5,80.5"/>
<polyline points="87.5,365.5 99.5,350.5 110.5,335.5 119.5,320.5 125.5,305.5 131.5,290.5 137.5,275.5 146.5,260.5 152.5,245.5 160.5,230.5 166.5,215.5 172.5,200.5 181.5,185.5 184.5,170.5 190.5,155.5 199.5,140.5 205.5,125.5 213.5,110.5 222.5,95.5 228.5,80.5"/>
<polyline points="90.5,365.5 99.5,350.5 107.5,335.5 113.5,320.5 122.5,305.5 128.5,290.5 137.5,275.5 143.5,260.5 152.5,245.5 154.5,230.5 160.5,215.5 169.5,200.5 178.5,185.5 187.5,170.5 193.5,155.5 202.5,140.5 213.5,125.5 219.5,110.5 225.5,95.5 231.5,80.5"/>
<polyline points="93.5,365.5 99.5,350.5 104.5,335.5 110.5,320.5 119.5,305.5 125.5,290.5 134.5,275.5 140.5,260.5 149.5,245.5 160.5,230.5 169.5,215.5 175.5,200.5 184.5,185.5 196.5,170.5 202.5,155.5 208.5,140.5 216.5,125.5 219.5,110.5 228.5,95.5 234.5,80.5"/>
<polyline points="93.5,365.5 99.5,350.5 107.5,335.5 113.5,320.5 122.5,305.5 131.5,290.5 140.5,275.5 146.5,260.5 154.5,245.5 160.5,230.5 166.5,215.5 172.5,200.5 181.5,185.5 187.5,170.5 196.5,155.5 202.5,140.5 210.5,125.5 216.5,110.5 225.5,95.5 234.5,80.5"/>
<polyline points="93.5,365.5 104.5,350.5 119.5,335.5 125.5,320.5 134.5,305.5 146.5,290.5 154.5,275.5 163.5,260.5 172.5,245.5 181.5,230.5 187.5,215.5 193.5,200.5 199.5,185.5 208.5,170.5 210.5,155.5 216.5,140.5 222.5,125.5 228.5,110.5 231.5,95.5 237.5,80.5"/>
<polyline points="96.5,365.5 104.5,350.5 110.5,335.5 116.5,320.5 125.5,305.5 131.5,290.5 143.5,275.5 149.5,260.5 157.5,245.5 163.5,230.5 172.5,215.5 184.5,200.5 193.5,185.5 205.5,170.5 210.5,155.5 216.5,140.5 225.5,125.5 228.5,110.5 234.5,95.5 237.5,80.5"/>
<polyline points="93.5,365.5 99.5,350.5 110.5,335.5 119.5,320.5 125.5,305.5 134.5,290.5 137.5,275.5 146.5,260.5 154.5,245.5 163.5,230.5 169.5,215.5 175.5,200.5 184.5,185.5 193.5,170.5 199.5,155.5 208.5,140.5 213.5,125.5 222.5,110.5 231.5,95.5 237.5,80.5"/>
<polyline points="90.5,365.5 99.5,350.5 104.5,335.5 113.5,320.5 125.5,305.5 131.5,290.5 137.5,275.5 143.5,260.5 154.5,245.5 163.5,230.5 172.5,215.5 181.5,200.5 190.5,185.5 199.5,170.5 208.5,155.5 216.5,140.5 219.5,125.5 225.5,110.5 231.5,95.5 237.5,80.5"/>
<polyline points="93.5,365.5 104.5,350.5 116.5,335.5 131.5,320.5 143.5,305.5 149.5,290.5 157.5,275.5 166.5,260.5 172.5,245.5 181.5,230.5 187.5,215.5 193.5,200.5 199.5,185.5 208.5,170.5 216.5,155.5 219.5,140.5 225.5,125.5 231.5,110.5 234.5,95.5 237.5,80.5"/>
<polyline points="99.5,365.5 116.5,350.5 125.5,335.5 137.5,320.5 143.5,305.5 152.5,290.5 157.5,275.5 166.5,260.5 172.5,245.5 175.5,230.5 181.5,215.5 190.5,200.5 202.5,185.5 210.5,170.5 219.5,155.5 225.5,140.5 231.5,125.5 237.5,110.5 240.5,95.5 249.5,80.5"/>
<polyline points="99.5,365.5 116.5,350.5 128.5,335.5 140.5,320.5 152.5,305.5 160.5,290.5 172.5,275.5 178.5,260.5 184.5,245.5 190.5,230.5 196.5,215.5 205.5,200.5 210.5,185.5 216.5,170.5 222.5,155.5 228.5,140.5 234.5,125.5 240.5,110.5 246.5,95.5 249.5,80.5"/>
<polyline points="96.5,365.5 104.5,350.5 110.5,335.5 116.5,320.5 122.5,305.5 128.5,290.5 146.5,275.5 160.5,260.5 172.5,245.5 181.5,230.5 187.5,215.5 193.5,200.5 202.5,185.5 208.5,170.5 216.5,155.5 225.5,140.5 234.5,125.5 240.5,110.5 246.5,95.5 252.5,80.5"/>
<polyline points="96.5,365.5 107.5,350.5 119.5,335.5 125.5,320.5 131.5,305.5 140.5,290.5 149.5,275.5 154.5,260.5 163.5,245.5 172.5,230.5 184.5,215.5 199.5,200.5 208.5,185.5 213.5,170.5 216.5,155.5 225.5,140.5 237.5,125.5 243.5,110.5 249.5,95.5 255.5,80.5"/>
<polyline points="102.5,365.5 113.5,350.5 116.5,335.5 125.5,320.5 131.5,305.5 137.5,290.5 146.5,275.5 152.5,260.5 163.5,245.5 172.5,230.5 184.5,215.5 193.5,200.5 205.5,185.5 210.5,170.5 219.5,155.5 225.5,140.5 234.5,125.5 243.5,110.5 252.5,95.5 260.5,80.5"/>
<polyline points="99.5,365.5 110.5,350.5 122.5,335.5 134.5,320.5 143.5,305.5 152.5,290.5 160.5,275.5 169.5,260.5 175.5,245.5 184.5,230.5 190.5,215.5 196.5,200.5 199.5,185.5 205.5,170.5 219.5,155.5 228.5,140.5 240.5,125.5 246.5,110.5 255.5,95.5 260.5,80.5"/>
<polyline points="99.5,365.5 102.5,350.5 107.5,335.5 116.5,320.5 122.5,305.5 134.5,290.5 146.5,275.5 154.5,260.5 160.5,245.5 169.5,230.5 178.5,215.5 187.5,200.5 196.5,185.5 205.5,170.5 210.5,155.5 219.5,140.5 228.5,125.5 240.5,110.5 252.5,95.5 260.5,80.5"/>
<polyline points="96.5,365.5 102.5,350.5 113.5,335.5 119.5,320.5 125.5,305.5 128.5,290.5 137.5,275.5 146.5,260.5 154.5,245.5 160.5,230.5 172.5,215.5 181.5,200.5 193.5,185.5 210.5,170.5 228.5,155.5 237.5,140.5 246.5,125.5 255.5,110.5 263.5,95.5 275.5,80.5"/>
<polyline points="96.5,365.5 107.5,350.5 116.5,335.5 125.5,320.5 140.5,305.5 149.5,290.5 157.5,275.5 169.5,260.5 175.5,245.5 178.5,230.5 196.5,215.5 208.5,200.5 216.5,185.5 222.5,170.5 231.5,155.5 240.5,140.5 249.5,125.5 255.5,110.5 263.5,95.5 272.5,80.5"/>
<polyline points="96.5,365.5 104.5,350.5 113.5,335.5 122.5,320.5 134.5,305.5 143.5,290.5 149.5,275.5 157.5,260.5 163.5,245.5 169.5,230.5 178.5,215.5 190.5,200.5 202.5,185.5 210.5,170.5 219.5,155.5 225.5,140.5 234.5,125.5 246.5,110.5 255.5,95.5 269.5,80.5"/>
<polyline points="102.5,365.5 110.5,350.5 119.5,335.5 128.5,320.5 134.5,305.5 143.5,290.5 154.5,275.5 166.5,260.5 175.5,245.5 187.5,230.5 190.5,215.5 196.5,200.5 210.5,185.5 216.5,170.5 222.5,155.5 234.5,140.5 249.5,125.5 263.5,110.5 272.5,95.5 287.5,80.5"/>
<polyline points="102.5,365.5 113.5,350.5 122.5,335.5 137.5,320.5 149.5,305.5 160.5,290.5 172.5,275.5 184.5,260.5 193.5,245.5 205.5,230.5 210.5,215.5 216.5,200.5 225.5,185.5 237.5,170.5 246.5,155.5 258.5,140.5 263.5,125.5 272.5,110.5 278.5,95.5 287.5,80.5"/>
<polyline points="102.5,365.5 110.5,350.5 128.5,335.5 140.5,320.5 149.5,305.5 160.5,290.5 172.5,275.5 181.5,260.5 193.5,245.5 202.5,230.5 210.5,215.5 219.5,200.5 225.5,185.5 234.5,170.5 243.5,155.5 252.5,140.5 260.5,125.5 269.5,110.5 278.5,95.5 284.5,80.5"/>
<polyline points="99.5,365.5 104.5,350.5 116.5,335.5 125.5,320.5 134.5,305.5 143.5,290.5 160.5,275.5 175.5,260.5 193.5,245.5 202.5,230.5 210.5,215.5 225.5,200.5 234.5,185.5 240.5,170.5 246.5,155.5 252.5,140.5 260.5,125.5 272.5,110.5 287.5,95.5 299.5,80.5"/>
<polyline points="102.5,365.5 110.5,350.5 125.5,335.5 134.5,320.5 146.5,305.5 152.5,290.5 163.5,275.5 169.5,260.5 175.5,245.5 187.5,230.5 193.5,215.5 202.5,200.5 219.5,185.5 234.5,170.5 243.5,155.5 255.5,140.5 263.5,125.5 275.5,110.5 284.5,95.5 299.5,80.5"/>
<polyline points="104.5,365.5 113.5,350.5 122.5,335.5 131.5,320.5 143.5,305.5 157.5,290.5 163.5,275.5 175.5,260.5 184.5,245.5 205.5,230.5 219.5,215.5 228.5,200.5 234.5,185.5 240.5,170.5 252.5,155.5 260.5,140.5 272.5,125.5 281.5,110.5 290.5,95.5 299.5,80.5"/>
<polyline points="90.5,365.5 99.5,350.5 107.5,335.5 113.5,320.5 125.5,305.5 137.5,290.5 149.5,275.5 154.5,260.5 166.5,245.5 181.5,230.5 196.5,215.5 199.5,200.5 210.5,185.5 222.5,170.5 234.5,155.5 246.5,140.5 260.5,125.5 278.5,110.5 296.5,95.5 311.5,80.5"/>
<polyline points="93.5,365.5 102.5,350.5 113.5,335.5 122.5,320.5 134.5,305.5 143.5,290.5 157.5,275.5 175.5,260.5 196.5,245.5 210.5,230.5 225.5,215.5 231.5,200.5 246.5,185.5 255.5,170.5 263.5,155.5 269.5,140.5 278.5,125.5 287.5,110.5 299.5,95.5 314.5,80.5"/>
<polyline points="93.5,365.5 104.5,350.5 113.5,335.5 122.5,320.5 137.5,305.5 149.5,290.5 160.5,275.5 175.5,260.5 181.5,245.5 190.5,230.5 205.5,215.5 219.5,200.5 234.5,185.5 243.5,170.5 255.5,155.5 266.5,140.5 278.5,125.5 287.5,110.5 296.5,95.5 311.5,80.5"/>
<polyline points="110.5,365.5 119.5,350.5 125.5,335.5 140.5,320.5 152.5,305.5 163.5,290.5 172.5,275.5 181.5,260.5 193.5,245.5 202.5,230.5 213.5,215.5 225.5,200.5 237.5,185.5 249.5,170.5 258.5,155.5 269.5,140.5 287.5,125.5 296.5,110.5 308.5,95.5 319.5,80.5"/>
<polyline points="107.5,365.5 128.5,350.5 143.5,335.5 157.5,320.5 169.5,305.5 181.5,290.5 187.5,275.5 196.5,260.5 205.5,245.5 222.5,230.5 240.5,215.5 249.5,200.5 255.5,185.5 266.5,170.5 272.5,155.5 284.5,140.5 293.5,125.5 302.5,110.5 308.5,95.5 319.5,80.5"/>
<polyline points="110.5,365.5 119.5,350.5 131.5,335.5 143.5,320.5 152.5,305.5 157.5,290.5 169.5,275.5 181.5,260.5 196.5,245.5 205.5,230.5 216.5,215.5 222.5,200.5 234.5,185.5 249.5,170.5 258.5,155.5 272.5,140.5 281.5,125.5 296.5,110.5 308.5,95.5 322.5,80.5"/>
<polyline points="96.5,365.5 102.5,350.5 113.5,335.5 131.5,320.5 140.5,305.5 157.5,290.5 172.5,275.5 184.5,260.5 199.5,245.5 216.5,230.5 228.5,215.5 240.5,200.5 246.5,185.5 260.5,170.5 278.5,155.5 287.5,140.5 299.5,125.5 311.5,110.5 322.5,95.5 337.5,80.5"/>
<polyline points="96.5,365.5 110.5,350.5 125.5,335.5 134.5,320.5 146.5,305.5 163.5,290.5 181.5,275.5 199.5,260.5 213.5,245.5 222.5,230.5 231.5,215.5 240.5,200.5 249.5,185.5 258.5,170.5 269.5,155.5 278.5,140.5 296.5,125.5 311.5,110.5 328.5,95.5 337.5,80.5"/>
<polyline points="99.5,365.5 110.5,350.5 128.5,335.5 137.5,320.5 146.5,305.5 152.5,290.5 163.5,275.5 184.5,260.5 202.5,245.5 216.5,230.5 228.5,215.5 234.5,200.5 246.5,185.5 255.5,170.5 266.5,155.5 278.5,140.5 293.5,125.5 305.5,110.5 316.5,95.5 334.5,80.5"/>
<polyline points="104.5,365.5 113.5,350.5 125.5,335.5 137.5,320.5 146.5,305.5 154.5,290.5 166.5,275.5 184.5,260.5 210.5,245.5 222.5,230.5 234.5,215.5 249.5,200.5 260.5,185.5 275.5,170.5 296.5,155.5 311.5,140.5 322.5,125.5 331.5,110.5 337.5,95.5 349.5,80.5"/>
<polyline points="102.5,365.5 110.5,350.5 122.5,335.5 143.5,320.5 152.5,305.5 160.5,290.5 175.5,275.5 193.5,260.5 208.5,245.5 225.5,230.5 249.5,215.5 260.5,200.5 275.5,185.5 287.5,170.5 299.5,155.5 314.5,140.5 322.5,125.5 331.5,110.5 337.5,95.5 346.5,80.5"/>
<polyline points="116.5,365.5 131.5,350.5 146.5,335.5 160.5,320.5 178.5,305.5 196.5,290.5 213.5,275.5 231.5,260.5 246.5,245.5 252.5,230.5 260.5,215.5 266.5,200.5 275.5,185.5 281.5,170.5 287.5,155.5 293.5,140.5 299.5,125.5 302.5,110.5 302.5,95.5 302.5,80.5"/>
<polyline points="113.5,365.5 131.5,350.5 143.5,335.5 160.5,320.5 181.5,305.5 193.5,290.5 205.5,275.5 216.5,260.5 225.5,245.5 237.5,230.5 243.5,215.5 249.5,200.5 263.5,185.5 275.5,170.5 284.5,155.5 293.5,140.5 296.5,125.5 299.5,110.5 302.5,95.5 302.5,80.5"/>
<polyline points="113.5,365.5 143.5,350.5 157.5,335.5 184.5,320.5 202.5,305.5 213.5,290.5 222.5,275.5 234.5,260.5 246.5,245.5 255.5,230.5 263.5,215.5 275.5,200.5 281.5,185.5 287.5,170.5 290.5,155.5 293.5,140.5 299.5,125.5 302.5,110.5 302.5,95.5 305.5,80.5"/>
<polyline points="122.5,365.5 140.5,350.5 154.5,335.5 169.5,320.5 181.5,305.5 193.5,290.5 205.5,275.5 219.5,260.5 240.5,245.5 260.5,230.5 269.5,215.5 284.5,200.5 293.5,185.5 302.5,170.5 308.5,155.5 319.5,140.5 325.5,125.5 328.5,110.5 328.5,95.5 331.5,80.5"/>
<polyline points="122.5,365.5 137.5,350.5 157.5,335.5 178.5,320.5 193.5,305.5 216.5,290.5 234.5,275.5 252.5,260.5 263.5,245.5 272.5,230.5 281.5,215.5 290.5,200.5 299.5,185.5 308.5,170.5 311.5,155.5 319.5,140.5 322.5,125.5 325.5,110.5 328.5,95.5 328.5,80.5"/>
<polyline points="125.5,365.5 154.5,350.5 184.5,335.5 210.5,320.5 219.5,305.5 231.5,290.5 243.5,275.5 258.5,260.5 272.5,245.5 287.5,230.5 296.5,215.5 305.5,200.5 311.5,185.5 314.5,170.5 316.5,155.5 319.5,140.5 325.5,125.5 328.5,110.5 328.5,95.5 331.5,80.5"/>
<polyline points="99.5,365.5 110.5,350.5 122.5,335.5 134.5,320.5 140.5,305.5 146.5,290.5 163.5,275.5 178.5,260.5 199.5,245.5 213.5,230.5 219.5,215.5 231.5,200.5 240.5,185.5 249.5,170.5 263.5,155.5 287.5,140.5 302.5,125.5 325.5,110.5 349.5,95.5 364.5,80.5"/>
<polyline points="96.5,365.5 107.5,350.5 128.5,335.5 137.5,320.5 146.5,305.5 157.5,290.5 166.5,275.5 184.5,260.5 193.5,245.5 210.5,230.5 219.5,215.5 231.5,200.5 243.5,185.5 252.5,170.5 266.5,155.5 281.5,140.5 299.5,125.5 322.5,110.5 334.5,95.5 364.5,80.5"/>
<polyline points="99.5,365.5 119.5,350.5 134.5,335.5 146.5,320.5 157.5,305.5 166.5,290.5 184.5,275.5 199.5,260.5 219.5,245.5 237.5,230.5 258.5,215.5 278.5,200.5 293.5,185.5 311.5,170.5 325.5,155.5 340.5,140.5 352.5,125.5 364.5,110.5 381.5,95.5 408.5,80.5"/>
<polyline points="96.5,365.5 122.5,350.5 143.5,335.5 169.5,320.5 199.5,305.5 234.5,290.5 260.5,275.5 275.5,260.5 287.5,245.5 308.5,230.5 319.5,215.5 331.5,200.5 340.5,185.5 349.5,170.5 355.5,155.5 366.5,140.5 375.5,125.5 384.5,110.5 396.5,95.5 405.5,80.5"/>
<polyline points="96.5,365.5 116.5,350.5 134.5,335.5 152.5,320.5 163.5,305.5 172.5,290.5 184.5,275.5 199.5,260.5 222.5,245.5 246.5,230.5 263.5,215.5 278.5,200.5 293.5,185.5 308.5,170.5 322.5,155.5 343.5,140.5 364.5,125.5 375.5,110.5 396.5,95.5 405.5,80.5"/>
<polyline points="110.5,365.5 134.5,350.5 157.5,335.5 184.5,320.5 202.5,305.5 210.5,290.5 231.5,275.5 246.5,260.5 260.5,245.5 272.5,230.5 290.5,215.5 308.5,200.5 325.5,185.5 343.5,170.5 355.5,155.5 364.5,140.5 372.5,125.5 378.5,110.5 381.5,95.5 381.5,80.5"/>
<polyline points="113.5,365.5 146.5,350.5 175.5,335.5 205.5,320.5 240.5,305.5 255.5,290.5 269.5,275.5 290.5,260.5 305.5,245.5 314.5,230.5 325.5,215.5 334.5,200.5 346.5,185.5 358.5,170.5 364.5,155.5 369.5,140.5 375.5,125.5 378.5,110.5 381.5,95.5 381.5,80.5"/>
<polyline points="96.5,365.5 131.5,350.5 169.5,335.5 205.5,320.5 234.5,305.5 258.5,290.5 275.5,275.5 293.5,260.5 305.5,245.5 322.5,230.5 337.5,215.5 352.5,200.5 366.5,185.5 378.5,170.5 390.5,155.5 399.5,140.5 405.5,125.5 414.5,110.5 420.5,95.5 420.5,80.5"/>
<polyline points="96.5,365.5 119.5,350.5 157.5,335.5 181.5,320.5 216.5,305.5 237.5,290.5 266.5,275.5 281.5,260.5 299.5,245.5 311.5,230.5 331.5,215.5 346.5,200.5 361.5,185.5 375.5,170.5 387.5,155.5 396.5,140.5 408.5,125.5 414.5,110.5 420.5,95.5 422.5,80.5"/>
<polyline points="107.5,365.5 134.5,350.5 149.5,335.5 166.5,320.5 184.5,305.5 202.5,290.5 219.5,275.5 231.5,260.5 246.5,245.5 272.5,230.5 293.5,215.5 319.5,200.5 340.5,185.5 358.5,170.5 378.5,155.5 396.5,140.5 417.5,125.5 434.5,110.5 449.5,95.5 470.5,80.5"/>
<polyline points="107.5,365.5 122.5,350.5 146.5,335.5 181.5,320.5 208.5,305.5 228.5,290.5 249.5,275.5 278.5,260.5 299.5,245.5 314.5,230.5 325.5,215.5 337.5,200.5 352.5,185.5 366.5,170.5 381.5,155.5 393.5,140.5 411.5,125.5 437.5,110.5 452.5,95.5 470.5,80.5"/>
<polyline points="107.5,365.5 122.5,350.5 137.5,335.5 152.5,320.5 166.5,305.5 190.5,290.5 208.5,275.5 225.5,260.5 249.5,245.5 269.5,230.5 290.5,215.5 316.5,200.5 334.5,185.5 352.5,170.5 366.5,155.5 393.5,140.5 411.5,125.5 425.5,110.5 440.5,95.5 467.5,80.5"/>
<polyline points="104.5,365.5 122.5,350.5 137.5,335.5 160.5,320.5 178.5,305.5 193.5,290.5 208.5,275.5 225.5,260.5 240.5,245.5 255.5,230.5 263.5,215.5 275.5,200.5 296.5,185.5 308.5,170.5 328.5,155.5 358.5,140.5 387.5,125.5 411.5,110.5 440.5,95.5 467.5,80.5"/>
<polyline points="181.5,365.5 311.5,350.5 405.5,335.5 467.5,320.5 499.5,305.5 526.5,290.5 546.5,275.5 564.5,260.5 576.5,245.5 581.5,230.5 587.5,215.5 593.5,200.5 599.5,185.5 602.5,170.5 602.5,155.5 605.5,140.5 605.5,125.5 605.5,110.5 605.5,95.5 605.5,80.5"/>
<polyline points="107.5,365.5 143.5,350.5 181.5,335.5 222.5,320.5 272.5,305.5 322.5,290.5 375.5,275.5 440.5,260.5 470.5,245.5 487.5,230.5 505.5,215.5 528.5,200.5 540.5,185.5 546.5,170.5 546.5,155.5 546.5,140.5 546.5,125.5 546.5,110.5 546.5,95.5 546.5,80.5"/>
</g>
<g fill="none" shape-rendering="geometricPrecision" stroke-linejoin="round">
<polyline points="140.5,365.5 210.5,350.5 272.5,335.5 325.5,320.5 378.5,305.5 428.5,290.5 464.5,275.5 490.5,260.5 520.5,245.5 537.5,230.5 555.5,215.5 567.5,200.5 576.5,185.5 584.5,170.5 587.5,155.5 590.5,140.5 590.5,125.5 593.5,110.5 596.5,95.5 599.5,80.5" stroke="#000000" stroke-width="1.7"/>
<polyline points="137.5,365.5 205.5,350.5 266.5,335.5 316.5,320.5 369.5,305.5 420.5,290.5 458.5,275.5 487.5,260.5 514.5,245.5 531.5,230.5 552.5,215.5 561.5,200.5 573.5,185.5 581.5,170.5 584.5,155.5 587.5,140.5 587.5,125.5 593.5,110.5 596.5,95.5 596.5,80.5" stroke="#000000" stroke-width="1.7"/>
<polyline points="134.5,365.5 202.5,350.5 258.5,335.5 308.5,320.5 358.5,305.5 411.5,290.5 452.5,275.5 481.5,260.5 511.5,245.5 528.5,230.5 546.5,215.5 558.5,200.5 570.5,185.5 578.5,170.5 581.5,155.5 584.5,140.5 587.5,125.5 590.5,110.5 593.5,95.5 596.5,80.5" stroke="#000000" stroke-width="1.7"/>
<polyline points="128.5,365.5 199.5,350.5 249.5,335.5 296.5,320.5 349.5,305.5 402.5,290.5 443.5,275.5 478.5,260.5 505.5,245.5 523.5,230.5 543.5,215.5 555.5,200.5 567.5,185.5 573.5,170.5 578.5,155.5 581.5,140.5 584.5,125.5 587.5,110.5 590.5,95.5 593.5,80.5" stroke="#000000" stroke-width="1.7"/>
<polyline points="125.5,365.5 196.5,350.5 240.5,335.5 287.5,320.5 337.5,305.5 393.5,290.5 437.5,275.5 472.5,260.5 499.5,245.5 517.5,230.5 540.5,215.5 552.5,200.5 564.5,185.5 570.5,170.5 576.5,155.5 578.5,140.5 581.5,125.5 584.5,110.5 590.5,95.5 593.5,80.5" stroke="#000000" stroke-width="1.7"/>
<polyline points="140.5,365.5 216.5,350.5 278.5,335.5 334.5,320.5 387.5,305.5 440.5,290.5 470.5,275.5 502.5,260.5 531.5,245.5 540.5,230.5 561.5,215.5 567.5,200.5 576.5,185.5 584.5,170.5 587.5,155.5 590.5,140.5 593.5,125.5 593.5,110.5 596.5,95.5 596.5,80.5" stroke="#0000ff" stroke-width="2.1"/>
</g>
<g stroke="#000" stroke-width="1" fill="none">
<rect x="65.5" y="65.5" width="550" height="310"/>
<path d="M128.5 375.5v-5.5M128.5 65.5v5.5M181.5 375.5v-10.5M181.5 65.5v10.5M234.5 375.5v-5.5M234.5 65.5v5.5M287.5 375.5v-10.5M287.5 65.5v10.5M340.5 375.5v-5.5M340.5 65.5v5.5M393.5 375.5v-10.5M393.5 65.5v10.5M446.5 375.5v-5.5M446.5 65.5v5.5M499.5 375.5v-10.5M499.5 65.5v10.5M552.5 375.5v-5.5M552.5 65.5v5.5M605.5 375.5v-10.5M605.5 65.5v10.5M65.5 336.5h5.5M615.5 336.5h-5.5M65.5 307.5h5.5M615.5 307.5h-5.5M65.5 278.5h5.5M615.5 278.5h-5.5M65.5 249.5h5.5M615.5 249.5h-5.5M65.5 220.5h10.5M615.5 220.5h-10.5M65.5 191.5h5.5M615.5 191.5h-5.5M65.5 162.5h5.5M615.5 162.5h-5.5M65.5 133.5h5.5M615.5 133.5h-5.5M65.5 104.5h5.5M615.5 104.5h-5.5M65.5 75.5h10.5M615.5 75.5h-10.5"/>
</g>
</svg>
<div class="t" style="left:248.5px;top:20px;width:200px;text-align:center;">T0977-D2</div>
<div class="t xt" style="left:35px;">0</div>
<div class="t xt" style="left:151px;">20</div>
<div class="t xt" style="left:257px;">40</div>
<div class="t xt" style="left:363px;">60</div>
<div class="t xt" style="left:469px;">80</div>
<div class="t xt" style="left:579px;">100</div>
<div class="t" style="left:184px;top:410px;width:300px;text-align:center;">Percent of Residues (CA)</div>
<div class="t yt" style="left:22.5px;top:368px;">0</div>
<div class="t yt" style="left:22.5px;top:213px;">5</div>
<div class="t yt" style="left:22.5px;top:58.5px;">10</div>
<div class="t yt" style="left:-122px;top:225.5px;width:300px;">Distance Cutoff, A</div>
</body></html>
